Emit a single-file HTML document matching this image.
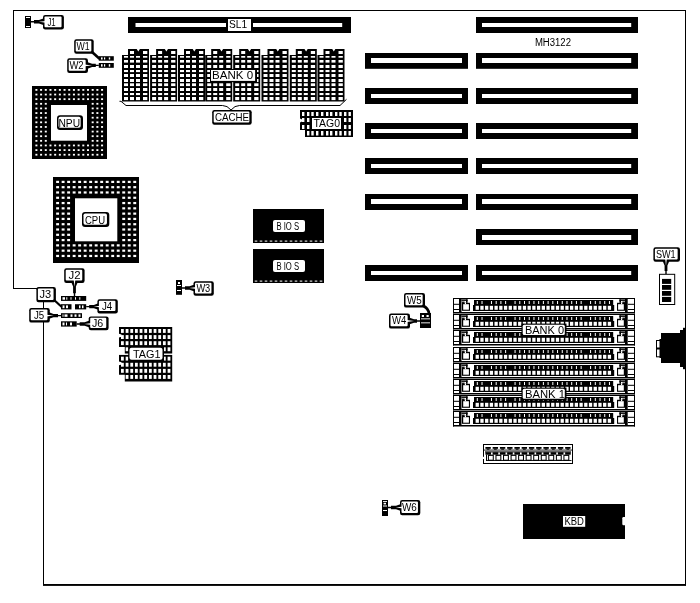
<!DOCTYPE html>
<html><head><meta charset="utf-8"><title>MH3122</title>
<style>
html,body{margin:0;padding:0;background:#fff;}
svg{display:block;}
text{font-family:"Liberation Sans",sans-serif;fill:#000;}
</style></head><body>
<svg width="700" height="603" viewBox="0 0 700 603" style="will-change:transform">
<rect x="0" y="0" width="700" height="603" fill="#fff"/>
<rect x="13.00" y="10.00" width="673.00" height="1.00" fill="#000"/>
<rect x="13.00" y="10.00" width="1.00" height="279.00" fill="#000"/>
<rect x="13.00" y="288.00" width="25.00" height="1.00" fill="#000"/>
<rect x="43.00" y="300.00" width="1.00" height="285.00" fill="#000"/>
<rect x="43.00" y="584.00" width="643.00" height="1.90" fill="#000"/>
<rect x="685.00" y="10.00" width="1.00" height="575.50" fill="#000"/>
<rect x="476.00" y="17.00" width="162.00" height="16.00" fill="#000"/>
<rect x="482.00" y="23.00" width="149.20" height="4.00" fill="#fff"/>
<rect x="476.00" y="53.00" width="162.00" height="15.80" fill="#000"/>
<rect x="482.00" y="58.00" width="149.20" height="5.00" fill="#fff"/>
<rect x="365.00" y="53.00" width="103.00" height="15.80" fill="#000"/>
<rect x="371.00" y="58.00" width="91.00" height="5.00" fill="#fff"/>
<rect x="476.00" y="88.00" width="162.00" height="16.00" fill="#000"/>
<rect x="482.00" y="94.00" width="149.20" height="4.00" fill="#fff"/>
<rect x="365.00" y="88.00" width="103.00" height="16.00" fill="#000"/>
<rect x="371.00" y="94.00" width="91.00" height="4.00" fill="#fff"/>
<rect x="476.00" y="123.00" width="162.00" height="16.00" fill="#000"/>
<rect x="482.00" y="129.00" width="149.20" height="4.00" fill="#fff"/>
<rect x="365.00" y="123.00" width="103.00" height="16.00" fill="#000"/>
<rect x="371.00" y="129.00" width="91.00" height="4.00" fill="#fff"/>
<rect x="476.00" y="158.00" width="162.00" height="16.00" fill="#000"/>
<rect x="482.00" y="164.00" width="149.20" height="4.00" fill="#fff"/>
<rect x="365.00" y="158.00" width="103.00" height="16.00" fill="#000"/>
<rect x="371.00" y="164.00" width="91.00" height="4.00" fill="#fff"/>
<rect x="476.00" y="194.00" width="162.00" height="16.00" fill="#000"/>
<rect x="482.00" y="199.00" width="149.20" height="5.00" fill="#fff"/>
<rect x="365.00" y="194.00" width="103.00" height="16.00" fill="#000"/>
<rect x="371.00" y="199.00" width="91.00" height="5.00" fill="#fff"/>
<rect x="476.00" y="229.00" width="162.00" height="16.00" fill="#000"/>
<rect x="482.00" y="235.00" width="149.20" height="5.00" fill="#fff"/>
<rect x="476.00" y="265.00" width="162.00" height="16.00" fill="#000"/>
<rect x="482.00" y="271.00" width="149.20" height="4.00" fill="#fff"/>
<rect x="365.00" y="265.00" width="103.00" height="16.00" fill="#000"/>
<rect x="371.00" y="271.00" width="91.00" height="4.00" fill="#fff"/>
<rect x="128.00" y="17.00" width="223.00" height="16.00" fill="#000"/>
<rect x="135.50" y="23.00" width="90.50" height="4.00" fill="#fff"/>
<rect x="253.00" y="23.00" width="89.20" height="4.00" fill="#fff"/>
<rect x="228.00" y="19.00" width="23.00" height="12.00" fill="#fff"/>
<text id="sl1" x="229.00" y="28.00" font-size="11" textLength="18.11" lengthAdjust="spacingAndGlyphs">SL1</text>
<text id="mh" x="534.90" y="46.20" font-size="10" textLength="36.12" lengthAdjust="spacingAndGlyphs">MH3122</text>
<polygon points="122.00,55.00 128.00,55.00 128.00,49.00 136.70,49.00 138.30,51.60 139.90,49.00 149.00,49.00 149.00,101.50 122.00,101.50" fill="#000"/>
<rect x="124.00" y="56.00" width="4.00" height="1.70" fill="#fff"/>
<rect x="130.00" y="56.00" width="4.00" height="1.70" fill="#fff"/>
<rect x="136.00" y="56.00" width="4.00" height="1.70" fill="#fff"/>
<rect x="143.00" y="56.00" width="4.30" height="1.70" fill="#fff"/>
<rect x="124.00" y="60.00" width="4.00" height="2.60" fill="#fff"/>
<rect x="130.00" y="60.00" width="4.00" height="2.60" fill="#fff"/>
<rect x="136.00" y="60.00" width="4.00" height="2.60" fill="#fff"/>
<rect x="143.00" y="60.00" width="4.30" height="2.60" fill="#fff"/>
<rect x="124.00" y="65.00" width="4.00" height="3.00" fill="#fff"/>
<rect x="130.00" y="65.00" width="4.00" height="3.00" fill="#fff"/>
<rect x="136.00" y="65.00" width="4.00" height="3.00" fill="#fff"/>
<rect x="143.00" y="65.00" width="4.30" height="3.00" fill="#fff"/>
<rect x="124.00" y="70.00" width="4.00" height="2.10" fill="#fff"/>
<rect x="130.00" y="70.00" width="4.00" height="2.10" fill="#fff"/>
<rect x="136.00" y="70.00" width="4.00" height="2.10" fill="#fff"/>
<rect x="143.00" y="70.00" width="4.30" height="2.10" fill="#fff"/>
<rect x="124.00" y="74.00" width="4.00" height="3.00" fill="#fff"/>
<rect x="130.00" y="74.00" width="4.00" height="3.00" fill="#fff"/>
<rect x="136.00" y="74.00" width="4.00" height="3.00" fill="#fff"/>
<rect x="143.00" y="74.00" width="4.30" height="3.00" fill="#fff"/>
<rect x="124.00" y="79.00" width="4.00" height="3.00" fill="#fff"/>
<rect x="130.00" y="79.00" width="4.00" height="3.00" fill="#fff"/>
<rect x="136.00" y="79.00" width="4.00" height="3.00" fill="#fff"/>
<rect x="143.00" y="79.00" width="4.30" height="3.00" fill="#fff"/>
<rect x="124.00" y="83.30" width="4.00" height="2.80" fill="#fff"/>
<rect x="130.00" y="83.30" width="4.00" height="2.80" fill="#fff"/>
<rect x="136.00" y="83.30" width="4.00" height="2.80" fill="#fff"/>
<rect x="143.00" y="83.30" width="4.30" height="2.80" fill="#fff"/>
<rect x="124.00" y="88.00" width="4.00" height="3.00" fill="#fff"/>
<rect x="130.00" y="88.00" width="4.00" height="3.00" fill="#fff"/>
<rect x="136.00" y="88.00" width="4.00" height="3.00" fill="#fff"/>
<rect x="143.00" y="88.00" width="4.30" height="3.00" fill="#fff"/>
<rect x="124.00" y="93.00" width="4.00" height="2.10" fill="#fff"/>
<rect x="130.00" y="93.00" width="4.00" height="2.10" fill="#fff"/>
<rect x="136.00" y="93.00" width="4.00" height="2.10" fill="#fff"/>
<rect x="143.00" y="93.00" width="4.30" height="2.10" fill="#fff"/>
<rect x="124.00" y="97.00" width="4.00" height="3.10" fill="#fff"/>
<rect x="130.00" y="97.00" width="4.00" height="3.10" fill="#fff"/>
<rect x="136.00" y="97.00" width="4.00" height="3.10" fill="#fff"/>
<rect x="143.00" y="97.00" width="4.30" height="3.10" fill="#fff"/>
<rect x="130.00" y="51.00" width="4.00" height="3.00" fill="#fff"/>
<rect x="143.00" y="51.00" width="4.30" height="3.00" fill="#fff"/>
<polygon points="150.10,55.00 156.10,55.00 156.10,49.00 164.80,49.00 166.40,51.60 168.00,49.00 177.10,49.00 177.10,101.50 150.10,101.50" fill="#000"/>
<rect x="152.10" y="56.00" width="4.00" height="1.70" fill="#fff"/>
<rect x="158.10" y="56.00" width="4.00" height="1.70" fill="#fff"/>
<rect x="164.10" y="56.00" width="4.00" height="1.70" fill="#fff"/>
<rect x="171.10" y="56.00" width="4.30" height="1.70" fill="#fff"/>
<rect x="152.10" y="60.00" width="4.00" height="2.60" fill="#fff"/>
<rect x="158.10" y="60.00" width="4.00" height="2.60" fill="#fff"/>
<rect x="164.10" y="60.00" width="4.00" height="2.60" fill="#fff"/>
<rect x="171.10" y="60.00" width="4.30" height="2.60" fill="#fff"/>
<rect x="152.10" y="65.00" width="4.00" height="3.00" fill="#fff"/>
<rect x="158.10" y="65.00" width="4.00" height="3.00" fill="#fff"/>
<rect x="164.10" y="65.00" width="4.00" height="3.00" fill="#fff"/>
<rect x="171.10" y="65.00" width="4.30" height="3.00" fill="#fff"/>
<rect x="152.10" y="70.00" width="4.00" height="2.10" fill="#fff"/>
<rect x="158.10" y="70.00" width="4.00" height="2.10" fill="#fff"/>
<rect x="164.10" y="70.00" width="4.00" height="2.10" fill="#fff"/>
<rect x="171.10" y="70.00" width="4.30" height="2.10" fill="#fff"/>
<rect x="152.10" y="74.00" width="4.00" height="3.00" fill="#fff"/>
<rect x="158.10" y="74.00" width="4.00" height="3.00" fill="#fff"/>
<rect x="164.10" y="74.00" width="4.00" height="3.00" fill="#fff"/>
<rect x="171.10" y="74.00" width="4.30" height="3.00" fill="#fff"/>
<rect x="152.10" y="79.00" width="4.00" height="3.00" fill="#fff"/>
<rect x="158.10" y="79.00" width="4.00" height="3.00" fill="#fff"/>
<rect x="164.10" y="79.00" width="4.00" height="3.00" fill="#fff"/>
<rect x="171.10" y="79.00" width="4.30" height="3.00" fill="#fff"/>
<rect x="152.10" y="83.30" width="4.00" height="2.80" fill="#fff"/>
<rect x="158.10" y="83.30" width="4.00" height="2.80" fill="#fff"/>
<rect x="164.10" y="83.30" width="4.00" height="2.80" fill="#fff"/>
<rect x="171.10" y="83.30" width="4.30" height="2.80" fill="#fff"/>
<rect x="152.10" y="88.00" width="4.00" height="3.00" fill="#fff"/>
<rect x="158.10" y="88.00" width="4.00" height="3.00" fill="#fff"/>
<rect x="164.10" y="88.00" width="4.00" height="3.00" fill="#fff"/>
<rect x="171.10" y="88.00" width="4.30" height="3.00" fill="#fff"/>
<rect x="152.10" y="93.00" width="4.00" height="2.10" fill="#fff"/>
<rect x="158.10" y="93.00" width="4.00" height="2.10" fill="#fff"/>
<rect x="164.10" y="93.00" width="4.00" height="2.10" fill="#fff"/>
<rect x="171.10" y="93.00" width="4.30" height="2.10" fill="#fff"/>
<rect x="152.10" y="97.00" width="4.00" height="3.10" fill="#fff"/>
<rect x="158.10" y="97.00" width="4.00" height="3.10" fill="#fff"/>
<rect x="164.10" y="97.00" width="4.00" height="3.10" fill="#fff"/>
<rect x="171.10" y="97.00" width="4.30" height="3.10" fill="#fff"/>
<rect x="158.10" y="51.00" width="4.00" height="3.00" fill="#fff"/>
<rect x="171.10" y="51.00" width="4.30" height="3.00" fill="#fff"/>
<polygon points="178.00,55.00 184.00,55.00 184.00,49.00 192.70,49.00 194.30,51.60 195.90,49.00 205.00,49.00 205.00,101.50 178.00,101.50" fill="#000"/>
<rect x="180.00" y="56.00" width="4.00" height="1.70" fill="#fff"/>
<rect x="186.00" y="56.00" width="4.00" height="1.70" fill="#fff"/>
<rect x="192.00" y="56.00" width="4.00" height="1.70" fill="#fff"/>
<rect x="199.00" y="56.00" width="4.30" height="1.70" fill="#fff"/>
<rect x="180.00" y="60.00" width="4.00" height="2.60" fill="#fff"/>
<rect x="186.00" y="60.00" width="4.00" height="2.60" fill="#fff"/>
<rect x="192.00" y="60.00" width="4.00" height="2.60" fill="#fff"/>
<rect x="199.00" y="60.00" width="4.30" height="2.60" fill="#fff"/>
<rect x="180.00" y="65.00" width="4.00" height="3.00" fill="#fff"/>
<rect x="186.00" y="65.00" width="4.00" height="3.00" fill="#fff"/>
<rect x="192.00" y="65.00" width="4.00" height="3.00" fill="#fff"/>
<rect x="199.00" y="65.00" width="4.30" height="3.00" fill="#fff"/>
<rect x="180.00" y="70.00" width="4.00" height="2.10" fill="#fff"/>
<rect x="186.00" y="70.00" width="4.00" height="2.10" fill="#fff"/>
<rect x="192.00" y="70.00" width="4.00" height="2.10" fill="#fff"/>
<rect x="199.00" y="70.00" width="4.30" height="2.10" fill="#fff"/>
<rect x="180.00" y="74.00" width="4.00" height="3.00" fill="#fff"/>
<rect x="186.00" y="74.00" width="4.00" height="3.00" fill="#fff"/>
<rect x="192.00" y="74.00" width="4.00" height="3.00" fill="#fff"/>
<rect x="199.00" y="74.00" width="4.30" height="3.00" fill="#fff"/>
<rect x="180.00" y="79.00" width="4.00" height="3.00" fill="#fff"/>
<rect x="186.00" y="79.00" width="4.00" height="3.00" fill="#fff"/>
<rect x="192.00" y="79.00" width="4.00" height="3.00" fill="#fff"/>
<rect x="199.00" y="79.00" width="4.30" height="3.00" fill="#fff"/>
<rect x="180.00" y="83.30" width="4.00" height="2.80" fill="#fff"/>
<rect x="186.00" y="83.30" width="4.00" height="2.80" fill="#fff"/>
<rect x="192.00" y="83.30" width="4.00" height="2.80" fill="#fff"/>
<rect x="199.00" y="83.30" width="4.30" height="2.80" fill="#fff"/>
<rect x="180.00" y="88.00" width="4.00" height="3.00" fill="#fff"/>
<rect x="186.00" y="88.00" width="4.00" height="3.00" fill="#fff"/>
<rect x="192.00" y="88.00" width="4.00" height="3.00" fill="#fff"/>
<rect x="199.00" y="88.00" width="4.30" height="3.00" fill="#fff"/>
<rect x="180.00" y="93.00" width="4.00" height="2.10" fill="#fff"/>
<rect x="186.00" y="93.00" width="4.00" height="2.10" fill="#fff"/>
<rect x="192.00" y="93.00" width="4.00" height="2.10" fill="#fff"/>
<rect x="199.00" y="93.00" width="4.30" height="2.10" fill="#fff"/>
<rect x="180.00" y="97.00" width="4.00" height="3.10" fill="#fff"/>
<rect x="186.00" y="97.00" width="4.00" height="3.10" fill="#fff"/>
<rect x="192.00" y="97.00" width="4.00" height="3.10" fill="#fff"/>
<rect x="199.00" y="97.00" width="4.30" height="3.10" fill="#fff"/>
<rect x="186.00" y="51.00" width="4.00" height="3.00" fill="#fff"/>
<rect x="199.00" y="51.00" width="4.30" height="3.00" fill="#fff"/>
<polygon points="205.20,55.00 211.20,55.00 211.20,49.00 219.90,49.00 221.50,51.60 223.10,49.00 232.20,49.00 232.20,101.50 205.20,101.50" fill="#000"/>
<rect x="207.20" y="56.00" width="4.00" height="1.70" fill="#fff"/>
<rect x="213.20" y="56.00" width="4.00" height="1.70" fill="#fff"/>
<rect x="219.20" y="56.00" width="4.00" height="1.70" fill="#fff"/>
<rect x="226.20" y="56.00" width="4.30" height="1.70" fill="#fff"/>
<rect x="207.20" y="60.00" width="4.00" height="2.60" fill="#fff"/>
<rect x="213.20" y="60.00" width="4.00" height="2.60" fill="#fff"/>
<rect x="219.20" y="60.00" width="4.00" height="2.60" fill="#fff"/>
<rect x="226.20" y="60.00" width="4.30" height="2.60" fill="#fff"/>
<rect x="207.20" y="65.00" width="4.00" height="3.00" fill="#fff"/>
<rect x="213.20" y="65.00" width="4.00" height="3.00" fill="#fff"/>
<rect x="219.20" y="65.00" width="4.00" height="3.00" fill="#fff"/>
<rect x="226.20" y="65.00" width="4.30" height="3.00" fill="#fff"/>
<rect x="207.20" y="70.00" width="4.00" height="2.10" fill="#fff"/>
<rect x="213.20" y="70.00" width="4.00" height="2.10" fill="#fff"/>
<rect x="219.20" y="70.00" width="4.00" height="2.10" fill="#fff"/>
<rect x="226.20" y="70.00" width="4.30" height="2.10" fill="#fff"/>
<rect x="207.20" y="74.00" width="4.00" height="3.00" fill="#fff"/>
<rect x="213.20" y="74.00" width="4.00" height="3.00" fill="#fff"/>
<rect x="219.20" y="74.00" width="4.00" height="3.00" fill="#fff"/>
<rect x="226.20" y="74.00" width="4.30" height="3.00" fill="#fff"/>
<rect x="207.20" y="79.00" width="4.00" height="3.00" fill="#fff"/>
<rect x="213.20" y="79.00" width="4.00" height="3.00" fill="#fff"/>
<rect x="219.20" y="79.00" width="4.00" height="3.00" fill="#fff"/>
<rect x="226.20" y="79.00" width="4.30" height="3.00" fill="#fff"/>
<rect x="207.20" y="83.30" width="4.00" height="2.80" fill="#fff"/>
<rect x="213.20" y="83.30" width="4.00" height="2.80" fill="#fff"/>
<rect x="219.20" y="83.30" width="4.00" height="2.80" fill="#fff"/>
<rect x="226.20" y="83.30" width="4.30" height="2.80" fill="#fff"/>
<rect x="207.20" y="88.00" width="4.00" height="3.00" fill="#fff"/>
<rect x="213.20" y="88.00" width="4.00" height="3.00" fill="#fff"/>
<rect x="219.20" y="88.00" width="4.00" height="3.00" fill="#fff"/>
<rect x="226.20" y="88.00" width="4.30" height="3.00" fill="#fff"/>
<rect x="207.20" y="93.00" width="4.00" height="2.10" fill="#fff"/>
<rect x="213.20" y="93.00" width="4.00" height="2.10" fill="#fff"/>
<rect x="219.20" y="93.00" width="4.00" height="2.10" fill="#fff"/>
<rect x="226.20" y="93.00" width="4.30" height="2.10" fill="#fff"/>
<rect x="207.20" y="97.00" width="4.00" height="3.10" fill="#fff"/>
<rect x="213.20" y="97.00" width="4.00" height="3.10" fill="#fff"/>
<rect x="219.20" y="97.00" width="4.00" height="3.10" fill="#fff"/>
<rect x="226.20" y="97.00" width="4.30" height="3.10" fill="#fff"/>
<rect x="213.20" y="51.00" width="4.00" height="3.00" fill="#fff"/>
<rect x="226.20" y="51.00" width="4.30" height="3.00" fill="#fff"/>
<polygon points="233.20,55.00 239.20,55.00 239.20,49.00 247.90,49.00 249.50,51.60 251.10,49.00 260.20,49.00 260.20,101.50 233.20,101.50" fill="#000"/>
<rect x="235.20" y="56.00" width="4.00" height="1.70" fill="#fff"/>
<rect x="241.20" y="56.00" width="4.00" height="1.70" fill="#fff"/>
<rect x="247.20" y="56.00" width="4.00" height="1.70" fill="#fff"/>
<rect x="254.20" y="56.00" width="4.30" height="1.70" fill="#fff"/>
<rect x="235.20" y="60.00" width="4.00" height="2.60" fill="#fff"/>
<rect x="241.20" y="60.00" width="4.00" height="2.60" fill="#fff"/>
<rect x="247.20" y="60.00" width="4.00" height="2.60" fill="#fff"/>
<rect x="254.20" y="60.00" width="4.30" height="2.60" fill="#fff"/>
<rect x="235.20" y="65.00" width="4.00" height="3.00" fill="#fff"/>
<rect x="241.20" y="65.00" width="4.00" height="3.00" fill="#fff"/>
<rect x="247.20" y="65.00" width="4.00" height="3.00" fill="#fff"/>
<rect x="254.20" y="65.00" width="4.30" height="3.00" fill="#fff"/>
<rect x="235.20" y="70.00" width="4.00" height="2.10" fill="#fff"/>
<rect x="241.20" y="70.00" width="4.00" height="2.10" fill="#fff"/>
<rect x="247.20" y="70.00" width="4.00" height="2.10" fill="#fff"/>
<rect x="254.20" y="70.00" width="4.30" height="2.10" fill="#fff"/>
<rect x="235.20" y="74.00" width="4.00" height="3.00" fill="#fff"/>
<rect x="241.20" y="74.00" width="4.00" height="3.00" fill="#fff"/>
<rect x="247.20" y="74.00" width="4.00" height="3.00" fill="#fff"/>
<rect x="254.20" y="74.00" width="4.30" height="3.00" fill="#fff"/>
<rect x="235.20" y="79.00" width="4.00" height="3.00" fill="#fff"/>
<rect x="241.20" y="79.00" width="4.00" height="3.00" fill="#fff"/>
<rect x="247.20" y="79.00" width="4.00" height="3.00" fill="#fff"/>
<rect x="254.20" y="79.00" width="4.30" height="3.00" fill="#fff"/>
<rect x="235.20" y="83.30" width="4.00" height="2.80" fill="#fff"/>
<rect x="241.20" y="83.30" width="4.00" height="2.80" fill="#fff"/>
<rect x="247.20" y="83.30" width="4.00" height="2.80" fill="#fff"/>
<rect x="254.20" y="83.30" width="4.30" height="2.80" fill="#fff"/>
<rect x="235.20" y="88.00" width="4.00" height="3.00" fill="#fff"/>
<rect x="241.20" y="88.00" width="4.00" height="3.00" fill="#fff"/>
<rect x="247.20" y="88.00" width="4.00" height="3.00" fill="#fff"/>
<rect x="254.20" y="88.00" width="4.30" height="3.00" fill="#fff"/>
<rect x="235.20" y="93.00" width="4.00" height="2.10" fill="#fff"/>
<rect x="241.20" y="93.00" width="4.00" height="2.10" fill="#fff"/>
<rect x="247.20" y="93.00" width="4.00" height="2.10" fill="#fff"/>
<rect x="254.20" y="93.00" width="4.30" height="2.10" fill="#fff"/>
<rect x="235.20" y="97.00" width="4.00" height="3.10" fill="#fff"/>
<rect x="241.20" y="97.00" width="4.00" height="3.10" fill="#fff"/>
<rect x="247.20" y="97.00" width="4.00" height="3.10" fill="#fff"/>
<rect x="254.20" y="97.00" width="4.30" height="3.10" fill="#fff"/>
<rect x="241.20" y="51.00" width="4.00" height="3.00" fill="#fff"/>
<rect x="254.20" y="51.00" width="4.30" height="3.00" fill="#fff"/>
<polygon points="261.50,55.00 267.50,55.00 267.50,49.00 276.20,49.00 277.80,51.60 279.40,49.00 288.50,49.00 288.50,101.50 261.50,101.50" fill="#000"/>
<rect x="263.50" y="56.00" width="4.00" height="1.70" fill="#fff"/>
<rect x="269.50" y="56.00" width="4.00" height="1.70" fill="#fff"/>
<rect x="275.50" y="56.00" width="4.00" height="1.70" fill="#fff"/>
<rect x="282.50" y="56.00" width="4.30" height="1.70" fill="#fff"/>
<rect x="263.50" y="60.00" width="4.00" height="2.60" fill="#fff"/>
<rect x="269.50" y="60.00" width="4.00" height="2.60" fill="#fff"/>
<rect x="275.50" y="60.00" width="4.00" height="2.60" fill="#fff"/>
<rect x="282.50" y="60.00" width="4.30" height="2.60" fill="#fff"/>
<rect x="263.50" y="65.00" width="4.00" height="3.00" fill="#fff"/>
<rect x="269.50" y="65.00" width="4.00" height="3.00" fill="#fff"/>
<rect x="275.50" y="65.00" width="4.00" height="3.00" fill="#fff"/>
<rect x="282.50" y="65.00" width="4.30" height="3.00" fill="#fff"/>
<rect x="263.50" y="70.00" width="4.00" height="2.10" fill="#fff"/>
<rect x="269.50" y="70.00" width="4.00" height="2.10" fill="#fff"/>
<rect x="275.50" y="70.00" width="4.00" height="2.10" fill="#fff"/>
<rect x="282.50" y="70.00" width="4.30" height="2.10" fill="#fff"/>
<rect x="263.50" y="74.00" width="4.00" height="3.00" fill="#fff"/>
<rect x="269.50" y="74.00" width="4.00" height="3.00" fill="#fff"/>
<rect x="275.50" y="74.00" width="4.00" height="3.00" fill="#fff"/>
<rect x="282.50" y="74.00" width="4.30" height="3.00" fill="#fff"/>
<rect x="263.50" y="79.00" width="4.00" height="3.00" fill="#fff"/>
<rect x="269.50" y="79.00" width="4.00" height="3.00" fill="#fff"/>
<rect x="275.50" y="79.00" width="4.00" height="3.00" fill="#fff"/>
<rect x="282.50" y="79.00" width="4.30" height="3.00" fill="#fff"/>
<rect x="263.50" y="83.30" width="4.00" height="2.80" fill="#fff"/>
<rect x="269.50" y="83.30" width="4.00" height="2.80" fill="#fff"/>
<rect x="275.50" y="83.30" width="4.00" height="2.80" fill="#fff"/>
<rect x="282.50" y="83.30" width="4.30" height="2.80" fill="#fff"/>
<rect x="263.50" y="88.00" width="4.00" height="3.00" fill="#fff"/>
<rect x="269.50" y="88.00" width="4.00" height="3.00" fill="#fff"/>
<rect x="275.50" y="88.00" width="4.00" height="3.00" fill="#fff"/>
<rect x="282.50" y="88.00" width="4.30" height="3.00" fill="#fff"/>
<rect x="263.50" y="93.00" width="4.00" height="2.10" fill="#fff"/>
<rect x="269.50" y="93.00" width="4.00" height="2.10" fill="#fff"/>
<rect x="275.50" y="93.00" width="4.00" height="2.10" fill="#fff"/>
<rect x="282.50" y="93.00" width="4.30" height="2.10" fill="#fff"/>
<rect x="263.50" y="97.00" width="4.00" height="3.10" fill="#fff"/>
<rect x="269.50" y="97.00" width="4.00" height="3.10" fill="#fff"/>
<rect x="275.50" y="97.00" width="4.00" height="3.10" fill="#fff"/>
<rect x="282.50" y="97.00" width="4.30" height="3.10" fill="#fff"/>
<rect x="269.50" y="51.00" width="4.00" height="3.00" fill="#fff"/>
<rect x="282.50" y="51.00" width="4.30" height="3.00" fill="#fff"/>
<polygon points="289.80,55.00 295.80,55.00 295.80,49.00 304.50,49.00 306.10,51.60 307.70,49.00 316.80,49.00 316.80,101.50 289.80,101.50" fill="#000"/>
<rect x="291.80" y="56.00" width="4.00" height="1.70" fill="#fff"/>
<rect x="297.80" y="56.00" width="4.00" height="1.70" fill="#fff"/>
<rect x="303.80" y="56.00" width="4.00" height="1.70" fill="#fff"/>
<rect x="310.80" y="56.00" width="4.30" height="1.70" fill="#fff"/>
<rect x="291.80" y="60.00" width="4.00" height="2.60" fill="#fff"/>
<rect x="297.80" y="60.00" width="4.00" height="2.60" fill="#fff"/>
<rect x="303.80" y="60.00" width="4.00" height="2.60" fill="#fff"/>
<rect x="310.80" y="60.00" width="4.30" height="2.60" fill="#fff"/>
<rect x="291.80" y="65.00" width="4.00" height="3.00" fill="#fff"/>
<rect x="297.80" y="65.00" width="4.00" height="3.00" fill="#fff"/>
<rect x="303.80" y="65.00" width="4.00" height="3.00" fill="#fff"/>
<rect x="310.80" y="65.00" width="4.30" height="3.00" fill="#fff"/>
<rect x="291.80" y="70.00" width="4.00" height="2.10" fill="#fff"/>
<rect x="297.80" y="70.00" width="4.00" height="2.10" fill="#fff"/>
<rect x="303.80" y="70.00" width="4.00" height="2.10" fill="#fff"/>
<rect x="310.80" y="70.00" width="4.30" height="2.10" fill="#fff"/>
<rect x="291.80" y="74.00" width="4.00" height="3.00" fill="#fff"/>
<rect x="297.80" y="74.00" width="4.00" height="3.00" fill="#fff"/>
<rect x="303.80" y="74.00" width="4.00" height="3.00" fill="#fff"/>
<rect x="310.80" y="74.00" width="4.30" height="3.00" fill="#fff"/>
<rect x="291.80" y="79.00" width="4.00" height="3.00" fill="#fff"/>
<rect x="297.80" y="79.00" width="4.00" height="3.00" fill="#fff"/>
<rect x="303.80" y="79.00" width="4.00" height="3.00" fill="#fff"/>
<rect x="310.80" y="79.00" width="4.30" height="3.00" fill="#fff"/>
<rect x="291.80" y="83.30" width="4.00" height="2.80" fill="#fff"/>
<rect x="297.80" y="83.30" width="4.00" height="2.80" fill="#fff"/>
<rect x="303.80" y="83.30" width="4.00" height="2.80" fill="#fff"/>
<rect x="310.80" y="83.30" width="4.30" height="2.80" fill="#fff"/>
<rect x="291.80" y="88.00" width="4.00" height="3.00" fill="#fff"/>
<rect x="297.80" y="88.00" width="4.00" height="3.00" fill="#fff"/>
<rect x="303.80" y="88.00" width="4.00" height="3.00" fill="#fff"/>
<rect x="310.80" y="88.00" width="4.30" height="3.00" fill="#fff"/>
<rect x="291.80" y="93.00" width="4.00" height="2.10" fill="#fff"/>
<rect x="297.80" y="93.00" width="4.00" height="2.10" fill="#fff"/>
<rect x="303.80" y="93.00" width="4.00" height="2.10" fill="#fff"/>
<rect x="310.80" y="93.00" width="4.30" height="2.10" fill="#fff"/>
<rect x="291.80" y="97.00" width="4.00" height="3.10" fill="#fff"/>
<rect x="297.80" y="97.00" width="4.00" height="3.10" fill="#fff"/>
<rect x="303.80" y="97.00" width="4.00" height="3.10" fill="#fff"/>
<rect x="310.80" y="97.00" width="4.30" height="3.10" fill="#fff"/>
<rect x="297.80" y="51.00" width="4.00" height="3.00" fill="#fff"/>
<rect x="310.80" y="51.00" width="4.30" height="3.00" fill="#fff"/>
<polygon points="317.50,55.00 323.50,55.00 323.50,49.00 332.20,49.00 333.80,51.60 335.40,49.00 344.50,49.00 344.50,101.50 317.50,101.50" fill="#000"/>
<rect x="319.50" y="56.00" width="4.00" height="1.70" fill="#fff"/>
<rect x="325.50" y="56.00" width="4.00" height="1.70" fill="#fff"/>
<rect x="331.50" y="56.00" width="4.00" height="1.70" fill="#fff"/>
<rect x="338.50" y="56.00" width="4.30" height="1.70" fill="#fff"/>
<rect x="319.50" y="60.00" width="4.00" height="2.60" fill="#fff"/>
<rect x="325.50" y="60.00" width="4.00" height="2.60" fill="#fff"/>
<rect x="331.50" y="60.00" width="4.00" height="2.60" fill="#fff"/>
<rect x="338.50" y="60.00" width="4.30" height="2.60" fill="#fff"/>
<rect x="319.50" y="65.00" width="4.00" height="3.00" fill="#fff"/>
<rect x="325.50" y="65.00" width="4.00" height="3.00" fill="#fff"/>
<rect x="331.50" y="65.00" width="4.00" height="3.00" fill="#fff"/>
<rect x="338.50" y="65.00" width="4.30" height="3.00" fill="#fff"/>
<rect x="319.50" y="70.00" width="4.00" height="2.10" fill="#fff"/>
<rect x="325.50" y="70.00" width="4.00" height="2.10" fill="#fff"/>
<rect x="331.50" y="70.00" width="4.00" height="2.10" fill="#fff"/>
<rect x="338.50" y="70.00" width="4.30" height="2.10" fill="#fff"/>
<rect x="319.50" y="74.00" width="4.00" height="3.00" fill="#fff"/>
<rect x="325.50" y="74.00" width="4.00" height="3.00" fill="#fff"/>
<rect x="331.50" y="74.00" width="4.00" height="3.00" fill="#fff"/>
<rect x="338.50" y="74.00" width="4.30" height="3.00" fill="#fff"/>
<rect x="319.50" y="79.00" width="4.00" height="3.00" fill="#fff"/>
<rect x="325.50" y="79.00" width="4.00" height="3.00" fill="#fff"/>
<rect x="331.50" y="79.00" width="4.00" height="3.00" fill="#fff"/>
<rect x="338.50" y="79.00" width="4.30" height="3.00" fill="#fff"/>
<rect x="319.50" y="83.30" width="4.00" height="2.80" fill="#fff"/>
<rect x="325.50" y="83.30" width="4.00" height="2.80" fill="#fff"/>
<rect x="331.50" y="83.30" width="4.00" height="2.80" fill="#fff"/>
<rect x="338.50" y="83.30" width="4.30" height="2.80" fill="#fff"/>
<rect x="319.50" y="88.00" width="4.00" height="3.00" fill="#fff"/>
<rect x="325.50" y="88.00" width="4.00" height="3.00" fill="#fff"/>
<rect x="331.50" y="88.00" width="4.00" height="3.00" fill="#fff"/>
<rect x="338.50" y="88.00" width="4.30" height="3.00" fill="#fff"/>
<rect x="319.50" y="93.00" width="4.00" height="2.10" fill="#fff"/>
<rect x="325.50" y="93.00" width="4.00" height="2.10" fill="#fff"/>
<rect x="331.50" y="93.00" width="4.00" height="2.10" fill="#fff"/>
<rect x="338.50" y="93.00" width="4.30" height="2.10" fill="#fff"/>
<rect x="319.50" y="97.00" width="4.00" height="3.10" fill="#fff"/>
<rect x="325.50" y="97.00" width="4.00" height="3.10" fill="#fff"/>
<rect x="331.50" y="97.00" width="4.00" height="3.10" fill="#fff"/>
<rect x="338.50" y="97.00" width="4.30" height="3.10" fill="#fff"/>
<rect x="325.50" y="51.00" width="4.00" height="3.00" fill="#fff"/>
<rect x="338.50" y="51.00" width="4.30" height="3.00" fill="#fff"/>
<polyline points="119.50,101.30 121.00,101.30 126.00,105.50 222.50,105.50 227.00,106.60 231.00,110.00 235.00,106.60 239.50,105.50 340.00,105.50 346.50,99.30" fill="none" stroke="#000" stroke-width="1" stroke-linecap="butt" stroke-linejoin="miter"/>
<rect x="210.00" y="69.00" width="47.00" height="13.20" fill="#000"/>
<rect x="211.00" y="70.00" width="44.10" height="10.90" fill="#fff"/>
<text id="bank0c" x="212.00" y="79.20" font-size="11" textLength="41.12" lengthAdjust="spacingAndGlyphs">BANK 0</text>
<rect x="212.20" y="110.00" width="39.50" height="14.70" rx="2.2" ry="2.2" fill="#000"/>
<rect x="213.70" y="111.45" width="35.65" height="10.95" rx="1.0000000000000002" ry="1.0000000000000002" fill="#fff"/>
<text id="cache" x="214.90" y="121.30" font-size="11" textLength="34.12" lengthAdjust="spacingAndGlyphs">CACHE</text>
<polygon points="300.00,110.00 353.00,110.00 353.00,137.00 305.00,137.00 305.00,130.00 300.00,130.00 300.00,122.40 302.00,121.40 302.00,119.40 300.00,118.40" fill="#000"/>
<rect x="302.00" y="112.00" width="2.40" height="4.00" fill="#fff"/>
<rect x="307.00" y="112.00" width="2.40" height="4.00" fill="#fff"/>
<rect x="307.00" y="131.00" width="2.40" height="4.50" fill="#fff"/>
<rect x="311.30" y="112.00" width="2.40" height="4.00" fill="#fff"/>
<rect x="311.30" y="131.00" width="2.40" height="4.50" fill="#fff"/>
<rect x="316.00" y="112.00" width="2.40" height="4.00" fill="#fff"/>
<rect x="316.00" y="131.00" width="2.40" height="4.50" fill="#fff"/>
<rect x="321.00" y="112.00" width="2.40" height="4.00" fill="#fff"/>
<rect x="321.00" y="131.00" width="2.40" height="4.50" fill="#fff"/>
<rect x="326.00" y="112.00" width="2.40" height="4.00" fill="#fff"/>
<rect x="326.00" y="131.00" width="2.40" height="4.50" fill="#fff"/>
<rect x="330.00" y="112.00" width="2.40" height="4.00" fill="#fff"/>
<rect x="330.00" y="131.00" width="2.40" height="4.50" fill="#fff"/>
<rect x="335.00" y="112.00" width="2.40" height="4.00" fill="#fff"/>
<rect x="335.00" y="131.00" width="2.40" height="4.50" fill="#fff"/>
<rect x="339.30" y="112.00" width="2.40" height="4.00" fill="#fff"/>
<rect x="339.30" y="131.00" width="2.40" height="4.50" fill="#fff"/>
<rect x="344.00" y="112.00" width="2.40" height="4.00" fill="#fff"/>
<rect x="344.00" y="131.00" width="2.40" height="4.50" fill="#fff"/>
<rect x="348.50" y="112.00" width="2.40" height="4.00" fill="#fff"/>
<rect x="348.50" y="131.00" width="2.40" height="4.50" fill="#fff"/>
<rect x="302.00" y="118.00" width="2.40" height="4.00" fill="#fff"/>
<rect x="302.00" y="125.00" width="2.40" height="4.00" fill="#fff"/>
<rect x="307.00" y="118.00" width="2.40" height="4.00" fill="#fff"/>
<rect x="307.00" y="125.00" width="2.40" height="4.00" fill="#fff"/>
<rect x="344.00" y="118.00" width="2.40" height="4.00" fill="#fff"/>
<rect x="344.00" y="125.00" width="2.40" height="4.00" fill="#fff"/>
<rect x="348.50" y="118.00" width="2.40" height="4.00" fill="#fff"/>
<rect x="348.50" y="125.00" width="2.40" height="4.00" fill="#fff"/>
<rect x="312.00" y="118.00" width="29.00" height="11.00" fill="#fff"/>
<text id="tag0" x="313.50" y="127.00" font-size="11" textLength="26.60" lengthAdjust="spacingAndGlyphs">TAG0</text>
<polygon points="119.00,327.00 172.20,327.00 172.20,353.70 124.80,353.70 124.80,347.00 119.00,347.00 119.00,337.50 121.50,336.70 121.50,334.50 119.00,333.80" fill="#000"/>
<rect x="121.00" y="329.00" width="2.80" height="3.90" fill="#fff"/>
<rect x="125.66" y="329.00" width="2.80" height="3.90" fill="#fff"/>
<rect x="130.32" y="329.00" width="2.80" height="3.90" fill="#fff"/>
<rect x="134.98" y="329.00" width="2.80" height="3.90" fill="#fff"/>
<rect x="139.64" y="329.00" width="2.80" height="3.90" fill="#fff"/>
<rect x="144.30" y="329.00" width="2.80" height="3.90" fill="#fff"/>
<rect x="148.96" y="329.00" width="2.80" height="3.90" fill="#fff"/>
<rect x="153.62" y="329.00" width="2.80" height="3.90" fill="#fff"/>
<rect x="158.28" y="329.00" width="2.80" height="3.90" fill="#fff"/>
<rect x="162.94" y="329.00" width="2.80" height="3.90" fill="#fff"/>
<rect x="167.60" y="329.00" width="2.80" height="3.90" fill="#fff"/>
<rect x="121.00" y="335.10" width="2.80" height="3.90" fill="#fff"/>
<rect x="125.66" y="335.10" width="2.80" height="3.90" fill="#fff"/>
<rect x="130.32" y="335.10" width="2.80" height="3.90" fill="#fff"/>
<rect x="134.98" y="335.10" width="2.80" height="3.90" fill="#fff"/>
<rect x="139.64" y="335.10" width="2.80" height="3.90" fill="#fff"/>
<rect x="144.30" y="335.10" width="2.80" height="3.90" fill="#fff"/>
<rect x="148.96" y="335.10" width="2.80" height="3.90" fill="#fff"/>
<rect x="153.62" y="335.10" width="2.80" height="3.90" fill="#fff"/>
<rect x="158.28" y="335.10" width="2.80" height="3.90" fill="#fff"/>
<rect x="162.94" y="335.10" width="2.80" height="3.90" fill="#fff"/>
<rect x="167.60" y="335.10" width="2.80" height="3.90" fill="#fff"/>
<rect x="121.00" y="341.20" width="2.80" height="3.90" fill="#fff"/>
<rect x="125.66" y="341.20" width="2.80" height="3.90" fill="#fff"/>
<rect x="130.32" y="341.20" width="2.80" height="3.90" fill="#fff"/>
<rect x="134.98" y="341.20" width="2.80" height="3.90" fill="#fff"/>
<rect x="139.64" y="341.20" width="2.80" height="3.90" fill="#fff"/>
<rect x="144.30" y="341.20" width="2.80" height="3.90" fill="#fff"/>
<rect x="148.96" y="341.20" width="2.80" height="3.90" fill="#fff"/>
<rect x="153.62" y="341.20" width="2.80" height="3.90" fill="#fff"/>
<rect x="158.28" y="341.20" width="2.80" height="3.90" fill="#fff"/>
<rect x="162.94" y="341.20" width="2.80" height="3.90" fill="#fff"/>
<rect x="167.60" y="341.20" width="2.80" height="3.90" fill="#fff"/>
<rect x="125.66" y="347.30" width="2.80" height="3.90" fill="#fff"/>
<rect x="130.32" y="347.30" width="2.80" height="3.90" fill="#fff"/>
<rect x="134.98" y="347.30" width="2.80" height="3.90" fill="#fff"/>
<rect x="139.64" y="347.30" width="2.80" height="3.90" fill="#fff"/>
<rect x="144.30" y="347.30" width="2.80" height="3.90" fill="#fff"/>
<rect x="148.96" y="347.30" width="2.80" height="3.90" fill="#fff"/>
<rect x="153.62" y="347.30" width="2.80" height="3.90" fill="#fff"/>
<rect x="158.28" y="347.30" width="2.80" height="3.90" fill="#fff"/>
<rect x="162.94" y="347.30" width="2.80" height="3.90" fill="#fff"/>
<rect x="167.60" y="347.30" width="2.80" height="3.90" fill="#fff"/>
<polygon points="119.00,354.70 172.20,354.70 172.20,381.40 124.80,381.40 124.80,374.70 119.00,374.70 119.00,365.20 121.50,364.40 121.50,362.20 119.00,361.50" fill="#000"/>
<rect x="121.00" y="356.70" width="2.80" height="3.90" fill="#fff"/>
<rect x="125.66" y="356.70" width="2.80" height="3.90" fill="#fff"/>
<rect x="130.32" y="356.70" width="2.80" height="3.90" fill="#fff"/>
<rect x="134.98" y="356.70" width="2.80" height="3.90" fill="#fff"/>
<rect x="139.64" y="356.70" width="2.80" height="3.90" fill="#fff"/>
<rect x="144.30" y="356.70" width="2.80" height="3.90" fill="#fff"/>
<rect x="148.96" y="356.70" width="2.80" height="3.90" fill="#fff"/>
<rect x="153.62" y="356.70" width="2.80" height="3.90" fill="#fff"/>
<rect x="158.28" y="356.70" width="2.80" height="3.90" fill="#fff"/>
<rect x="162.94" y="356.70" width="2.80" height="3.90" fill="#fff"/>
<rect x="167.60" y="356.70" width="2.80" height="3.90" fill="#fff"/>
<rect x="121.00" y="362.80" width="2.80" height="3.90" fill="#fff"/>
<rect x="125.66" y="362.80" width="2.80" height="3.90" fill="#fff"/>
<rect x="130.32" y="362.80" width="2.80" height="3.90" fill="#fff"/>
<rect x="134.98" y="362.80" width="2.80" height="3.90" fill="#fff"/>
<rect x="139.64" y="362.80" width="2.80" height="3.90" fill="#fff"/>
<rect x="144.30" y="362.80" width="2.80" height="3.90" fill="#fff"/>
<rect x="148.96" y="362.80" width="2.80" height="3.90" fill="#fff"/>
<rect x="153.62" y="362.80" width="2.80" height="3.90" fill="#fff"/>
<rect x="158.28" y="362.80" width="2.80" height="3.90" fill="#fff"/>
<rect x="162.94" y="362.80" width="2.80" height="3.90" fill="#fff"/>
<rect x="167.60" y="362.80" width="2.80" height="3.90" fill="#fff"/>
<rect x="121.00" y="368.90" width="2.80" height="3.90" fill="#fff"/>
<rect x="125.66" y="368.90" width="2.80" height="3.90" fill="#fff"/>
<rect x="130.32" y="368.90" width="2.80" height="3.90" fill="#fff"/>
<rect x="134.98" y="368.90" width="2.80" height="3.90" fill="#fff"/>
<rect x="139.64" y="368.90" width="2.80" height="3.90" fill="#fff"/>
<rect x="144.30" y="368.90" width="2.80" height="3.90" fill="#fff"/>
<rect x="148.96" y="368.90" width="2.80" height="3.90" fill="#fff"/>
<rect x="153.62" y="368.90" width="2.80" height="3.90" fill="#fff"/>
<rect x="158.28" y="368.90" width="2.80" height="3.90" fill="#fff"/>
<rect x="162.94" y="368.90" width="2.80" height="3.90" fill="#fff"/>
<rect x="167.60" y="368.90" width="2.80" height="3.90" fill="#fff"/>
<rect x="125.66" y="375.00" width="2.80" height="3.90" fill="#fff"/>
<rect x="130.32" y="375.00" width="2.80" height="3.90" fill="#fff"/>
<rect x="134.98" y="375.00" width="2.80" height="3.90" fill="#fff"/>
<rect x="139.64" y="375.00" width="2.80" height="3.90" fill="#fff"/>
<rect x="144.30" y="375.00" width="2.80" height="3.90" fill="#fff"/>
<rect x="148.96" y="375.00" width="2.80" height="3.90" fill="#fff"/>
<rect x="153.62" y="375.00" width="2.80" height="3.90" fill="#fff"/>
<rect x="158.28" y="375.00" width="2.80" height="3.90" fill="#fff"/>
<rect x="162.94" y="375.00" width="2.80" height="3.90" fill="#fff"/>
<rect x="167.60" y="375.00" width="2.80" height="3.90" fill="#fff"/>
<rect x="119.00" y="353.70" width="54.00" height="1.00" fill="#fff"/>
<rect x="128.20" y="346.60" width="35.80" height="14.60" fill="#000"/>
<rect x="129.50" y="347.80" width="33.00" height="12.00" rx="2" ry="2" fill="#fff"/>
<text id="tag1" x="132.94" y="358.30" font-size="11" textLength="27.58" lengthAdjust="spacingAndGlyphs">TAG1</text>
<rect x="32.00" y="86.00" width="75.00" height="73.00" fill="#000"/>
<rect x="35.40" y="89.00" width="2.00" height="1.80" fill="#fff"/>
<rect x="40.09" y="89.00" width="2.00" height="1.80" fill="#fff"/>
<rect x="44.78" y="89.00" width="2.00" height="1.80" fill="#fff"/>
<rect x="49.47" y="89.00" width="2.00" height="1.80" fill="#fff"/>
<rect x="54.16" y="89.00" width="2.00" height="1.80" fill="#fff"/>
<rect x="58.85" y="89.00" width="2.00" height="1.80" fill="#fff"/>
<rect x="63.54" y="89.00" width="2.00" height="1.80" fill="#fff"/>
<rect x="68.23" y="89.00" width="2.00" height="1.80" fill="#fff"/>
<rect x="72.92" y="89.00" width="2.00" height="1.80" fill="#fff"/>
<rect x="77.61" y="89.00" width="2.00" height="1.80" fill="#fff"/>
<rect x="82.30" y="89.00" width="2.00" height="1.80" fill="#fff"/>
<rect x="86.99" y="89.00" width="2.00" height="1.80" fill="#fff"/>
<rect x="91.68" y="89.00" width="2.00" height="1.80" fill="#fff"/>
<rect x="96.37" y="89.00" width="2.00" height="1.80" fill="#fff"/>
<rect x="101.06" y="89.00" width="2.00" height="1.80" fill="#fff"/>
<rect x="35.40" y="93.63" width="2.00" height="1.80" fill="#fff"/>
<rect x="40.09" y="93.63" width="2.00" height="1.80" fill="#fff"/>
<rect x="44.78" y="93.63" width="2.00" height="1.80" fill="#fff"/>
<rect x="49.47" y="93.63" width="2.00" height="1.80" fill="#fff"/>
<rect x="54.16" y="93.63" width="2.00" height="1.80" fill="#fff"/>
<rect x="58.85" y="93.63" width="2.00" height="1.80" fill="#fff"/>
<rect x="63.54" y="93.63" width="2.00" height="1.80" fill="#fff"/>
<rect x="68.23" y="93.63" width="2.00" height="1.80" fill="#fff"/>
<rect x="72.92" y="93.63" width="2.00" height="1.80" fill="#fff"/>
<rect x="77.61" y="93.63" width="2.00" height="1.80" fill="#fff"/>
<rect x="82.30" y="93.63" width="2.00" height="1.80" fill="#fff"/>
<rect x="86.99" y="93.63" width="2.00" height="1.80" fill="#fff"/>
<rect x="91.68" y="93.63" width="2.00" height="1.80" fill="#fff"/>
<rect x="96.37" y="93.63" width="2.00" height="1.80" fill="#fff"/>
<rect x="101.06" y="93.63" width="2.00" height="1.80" fill="#fff"/>
<rect x="35.40" y="98.26" width="2.00" height="1.80" fill="#fff"/>
<rect x="40.09" y="98.26" width="2.00" height="1.80" fill="#fff"/>
<rect x="44.78" y="98.26" width="2.00" height="1.80" fill="#fff"/>
<rect x="49.47" y="98.26" width="2.00" height="1.80" fill="#fff"/>
<rect x="54.16" y="98.26" width="2.00" height="1.80" fill="#fff"/>
<rect x="58.85" y="98.26" width="2.00" height="1.80" fill="#fff"/>
<rect x="63.54" y="98.26" width="2.00" height="1.80" fill="#fff"/>
<rect x="68.23" y="98.26" width="2.00" height="1.80" fill="#fff"/>
<rect x="72.92" y="98.26" width="2.00" height="1.80" fill="#fff"/>
<rect x="77.61" y="98.26" width="2.00" height="1.80" fill="#fff"/>
<rect x="82.30" y="98.26" width="2.00" height="1.80" fill="#fff"/>
<rect x="86.99" y="98.26" width="2.00" height="1.80" fill="#fff"/>
<rect x="91.68" y="98.26" width="2.00" height="1.80" fill="#fff"/>
<rect x="96.37" y="98.26" width="2.00" height="1.80" fill="#fff"/>
<rect x="101.06" y="98.26" width="2.00" height="1.80" fill="#fff"/>
<rect x="35.40" y="102.89" width="2.00" height="1.80" fill="#fff"/>
<rect x="40.09" y="102.89" width="2.00" height="1.80" fill="#fff"/>
<rect x="44.78" y="102.89" width="2.00" height="1.80" fill="#fff"/>
<rect x="91.68" y="102.89" width="2.00" height="1.80" fill="#fff"/>
<rect x="96.37" y="102.89" width="2.00" height="1.80" fill="#fff"/>
<rect x="101.06" y="102.89" width="2.00" height="1.80" fill="#fff"/>
<rect x="35.40" y="107.52" width="2.00" height="1.80" fill="#fff"/>
<rect x="40.09" y="107.52" width="2.00" height="1.80" fill="#fff"/>
<rect x="44.78" y="107.52" width="2.00" height="1.80" fill="#fff"/>
<rect x="91.68" y="107.52" width="2.00" height="1.80" fill="#fff"/>
<rect x="96.37" y="107.52" width="2.00" height="1.80" fill="#fff"/>
<rect x="101.06" y="107.52" width="2.00" height="1.80" fill="#fff"/>
<rect x="35.40" y="112.15" width="2.00" height="1.80" fill="#fff"/>
<rect x="40.09" y="112.15" width="2.00" height="1.80" fill="#fff"/>
<rect x="44.78" y="112.15" width="2.00" height="1.80" fill="#fff"/>
<rect x="91.68" y="112.15" width="2.00" height="1.80" fill="#fff"/>
<rect x="96.37" y="112.15" width="2.00" height="1.80" fill="#fff"/>
<rect x="101.06" y="112.15" width="2.00" height="1.80" fill="#fff"/>
<rect x="35.40" y="116.78" width="2.00" height="1.80" fill="#fff"/>
<rect x="40.09" y="116.78" width="2.00" height="1.80" fill="#fff"/>
<rect x="44.78" y="116.78" width="2.00" height="1.80" fill="#fff"/>
<rect x="91.68" y="116.78" width="2.00" height="1.80" fill="#fff"/>
<rect x="96.37" y="116.78" width="2.00" height="1.80" fill="#fff"/>
<rect x="101.06" y="116.78" width="2.00" height="1.80" fill="#fff"/>
<rect x="35.40" y="121.41" width="2.00" height="1.80" fill="#fff"/>
<rect x="40.09" y="121.41" width="2.00" height="1.80" fill="#fff"/>
<rect x="44.78" y="121.41" width="2.00" height="1.80" fill="#fff"/>
<rect x="91.68" y="121.41" width="2.00" height="1.80" fill="#fff"/>
<rect x="96.37" y="121.41" width="2.00" height="1.80" fill="#fff"/>
<rect x="101.06" y="121.41" width="2.00" height="1.80" fill="#fff"/>
<rect x="35.40" y="126.04" width="2.00" height="1.80" fill="#fff"/>
<rect x="40.09" y="126.04" width="2.00" height="1.80" fill="#fff"/>
<rect x="44.78" y="126.04" width="2.00" height="1.80" fill="#fff"/>
<rect x="91.68" y="126.04" width="2.00" height="1.80" fill="#fff"/>
<rect x="96.37" y="126.04" width="2.00" height="1.80" fill="#fff"/>
<rect x="101.06" y="126.04" width="2.00" height="1.80" fill="#fff"/>
<rect x="35.40" y="130.67" width="2.00" height="1.80" fill="#fff"/>
<rect x="40.09" y="130.67" width="2.00" height="1.80" fill="#fff"/>
<rect x="44.78" y="130.67" width="2.00" height="1.80" fill="#fff"/>
<rect x="91.68" y="130.67" width="2.00" height="1.80" fill="#fff"/>
<rect x="96.37" y="130.67" width="2.00" height="1.80" fill="#fff"/>
<rect x="101.06" y="130.67" width="2.00" height="1.80" fill="#fff"/>
<rect x="35.40" y="135.30" width="2.00" height="1.80" fill="#fff"/>
<rect x="40.09" y="135.30" width="2.00" height="1.80" fill="#fff"/>
<rect x="44.78" y="135.30" width="2.00" height="1.80" fill="#fff"/>
<rect x="91.68" y="135.30" width="2.00" height="1.80" fill="#fff"/>
<rect x="96.37" y="135.30" width="2.00" height="1.80" fill="#fff"/>
<rect x="101.06" y="135.30" width="2.00" height="1.80" fill="#fff"/>
<rect x="35.40" y="139.93" width="2.00" height="1.80" fill="#fff"/>
<rect x="40.09" y="139.93" width="2.00" height="1.80" fill="#fff"/>
<rect x="44.78" y="139.93" width="2.00" height="1.80" fill="#fff"/>
<rect x="91.68" y="139.93" width="2.00" height="1.80" fill="#fff"/>
<rect x="96.37" y="139.93" width="2.00" height="1.80" fill="#fff"/>
<rect x="101.06" y="139.93" width="2.00" height="1.80" fill="#fff"/>
<rect x="35.40" y="144.56" width="2.00" height="1.80" fill="#fff"/>
<rect x="40.09" y="144.56" width="2.00" height="1.80" fill="#fff"/>
<rect x="44.78" y="144.56" width="2.00" height="1.80" fill="#fff"/>
<rect x="49.47" y="144.56" width="2.00" height="1.80" fill="#fff"/>
<rect x="54.16" y="144.56" width="2.00" height="1.80" fill="#fff"/>
<rect x="58.85" y="144.56" width="2.00" height="1.80" fill="#fff"/>
<rect x="63.54" y="144.56" width="2.00" height="1.80" fill="#fff"/>
<rect x="68.23" y="144.56" width="2.00" height="1.80" fill="#fff"/>
<rect x="72.92" y="144.56" width="2.00" height="1.80" fill="#fff"/>
<rect x="77.61" y="144.56" width="2.00" height="1.80" fill="#fff"/>
<rect x="82.30" y="144.56" width="2.00" height="1.80" fill="#fff"/>
<rect x="86.99" y="144.56" width="2.00" height="1.80" fill="#fff"/>
<rect x="91.68" y="144.56" width="2.00" height="1.80" fill="#fff"/>
<rect x="96.37" y="144.56" width="2.00" height="1.80" fill="#fff"/>
<rect x="101.06" y="144.56" width="2.00" height="1.80" fill="#fff"/>
<rect x="35.40" y="149.19" width="2.00" height="1.80" fill="#fff"/>
<rect x="40.09" y="149.19" width="2.00" height="1.80" fill="#fff"/>
<rect x="44.78" y="149.19" width="2.00" height="1.80" fill="#fff"/>
<rect x="49.47" y="149.19" width="2.00" height="1.80" fill="#fff"/>
<rect x="54.16" y="149.19" width="2.00" height="1.80" fill="#fff"/>
<rect x="58.85" y="149.19" width="2.00" height="1.80" fill="#fff"/>
<rect x="63.54" y="149.19" width="2.00" height="1.80" fill="#fff"/>
<rect x="68.23" y="149.19" width="2.00" height="1.80" fill="#fff"/>
<rect x="72.92" y="149.19" width="2.00" height="1.80" fill="#fff"/>
<rect x="77.61" y="149.19" width="2.00" height="1.80" fill="#fff"/>
<rect x="82.30" y="149.19" width="2.00" height="1.80" fill="#fff"/>
<rect x="86.99" y="149.19" width="2.00" height="1.80" fill="#fff"/>
<rect x="91.68" y="149.19" width="2.00" height="1.80" fill="#fff"/>
<rect x="96.37" y="149.19" width="2.00" height="1.80" fill="#fff"/>
<rect x="101.06" y="149.19" width="2.00" height="1.80" fill="#fff"/>
<rect x="35.40" y="153.82" width="2.00" height="1.80" fill="#fff"/>
<rect x="40.09" y="153.82" width="2.00" height="1.80" fill="#fff"/>
<rect x="44.78" y="153.82" width="2.00" height="1.80" fill="#fff"/>
<rect x="49.47" y="153.82" width="2.00" height="1.80" fill="#fff"/>
<rect x="54.16" y="153.82" width="2.00" height="1.80" fill="#fff"/>
<rect x="58.85" y="153.82" width="2.00" height="1.80" fill="#fff"/>
<rect x="63.54" y="153.82" width="2.00" height="1.80" fill="#fff"/>
<rect x="68.23" y="153.82" width="2.00" height="1.80" fill="#fff"/>
<rect x="72.92" y="153.82" width="2.00" height="1.80" fill="#fff"/>
<rect x="77.61" y="153.82" width="2.00" height="1.80" fill="#fff"/>
<rect x="82.30" y="153.82" width="2.00" height="1.80" fill="#fff"/>
<rect x="86.99" y="153.82" width="2.00" height="1.80" fill="#fff"/>
<rect x="91.68" y="153.82" width="2.00" height="1.80" fill="#fff"/>
<rect x="96.37" y="153.82" width="2.00" height="1.80" fill="#fff"/>
<rect x="101.06" y="153.82" width="2.00" height="1.80" fill="#fff"/>
<rect x="51.00" y="105.00" width="36.00" height="35.70" fill="#fff"/>
<rect x="57.00" y="115.30" width="26.00" height="14.70" rx="3" ry="3" fill="#000"/>
<rect x="58.50" y="116.75" width="22.15" height="10.95" rx="1.8" ry="1.8" fill="#fff"/>
<text id="npu" x="58.46" y="126.60" font-size="11" textLength="21.65" lengthAdjust="spacingAndGlyphs">NPU</text>
<rect x="53.00" y="177.00" width="86.00" height="86.00" fill="#000"/>
<rect x="56.15" y="180.80" width="2.90" height="2.20" fill="#fff"/>
<rect x="61.66" y="180.80" width="2.90" height="2.20" fill="#fff"/>
<rect x="67.17" y="180.80" width="2.90" height="2.20" fill="#fff"/>
<rect x="72.68" y="180.80" width="2.90" height="2.20" fill="#fff"/>
<rect x="78.19" y="180.80" width="2.90" height="2.20" fill="#fff"/>
<rect x="83.70" y="180.80" width="2.90" height="2.20" fill="#fff"/>
<rect x="89.21" y="180.80" width="2.90" height="2.20" fill="#fff"/>
<rect x="94.72" y="180.80" width="2.90" height="2.20" fill="#fff"/>
<rect x="100.23" y="180.80" width="2.90" height="2.20" fill="#fff"/>
<rect x="105.74" y="180.80" width="2.90" height="2.20" fill="#fff"/>
<rect x="111.25" y="180.80" width="2.90" height="2.20" fill="#fff"/>
<rect x="116.76" y="180.80" width="2.90" height="2.20" fill="#fff"/>
<rect x="122.27" y="180.80" width="2.90" height="2.20" fill="#fff"/>
<rect x="127.78" y="180.80" width="2.90" height="2.20" fill="#fff"/>
<rect x="133.29" y="180.80" width="2.90" height="2.20" fill="#fff"/>
<rect x="56.15" y="186.09" width="2.90" height="2.20" fill="#fff"/>
<rect x="61.66" y="186.09" width="2.90" height="2.20" fill="#fff"/>
<rect x="67.17" y="186.09" width="2.90" height="2.20" fill="#fff"/>
<rect x="72.68" y="186.09" width="2.90" height="2.20" fill="#fff"/>
<rect x="78.19" y="186.09" width="2.90" height="2.20" fill="#fff"/>
<rect x="83.70" y="186.09" width="2.90" height="2.20" fill="#fff"/>
<rect x="89.21" y="186.09" width="2.90" height="2.20" fill="#fff"/>
<rect x="94.72" y="186.09" width="2.90" height="2.20" fill="#fff"/>
<rect x="100.23" y="186.09" width="2.90" height="2.20" fill="#fff"/>
<rect x="105.74" y="186.09" width="2.90" height="2.20" fill="#fff"/>
<rect x="111.25" y="186.09" width="2.90" height="2.20" fill="#fff"/>
<rect x="116.76" y="186.09" width="2.90" height="2.20" fill="#fff"/>
<rect x="122.27" y="186.09" width="2.90" height="2.20" fill="#fff"/>
<rect x="127.78" y="186.09" width="2.90" height="2.20" fill="#fff"/>
<rect x="133.29" y="186.09" width="2.90" height="2.20" fill="#fff"/>
<rect x="56.15" y="191.38" width="2.90" height="2.20" fill="#fff"/>
<rect x="61.66" y="191.38" width="2.90" height="2.20" fill="#fff"/>
<rect x="67.17" y="191.38" width="2.90" height="2.20" fill="#fff"/>
<rect x="72.68" y="191.38" width="2.90" height="2.20" fill="#fff"/>
<rect x="78.19" y="191.38" width="2.90" height="2.20" fill="#fff"/>
<rect x="83.70" y="191.38" width="2.90" height="2.20" fill="#fff"/>
<rect x="89.21" y="191.38" width="2.90" height="2.20" fill="#fff"/>
<rect x="94.72" y="191.38" width="2.90" height="2.20" fill="#fff"/>
<rect x="100.23" y="191.38" width="2.90" height="2.20" fill="#fff"/>
<rect x="105.74" y="191.38" width="2.90" height="2.20" fill="#fff"/>
<rect x="111.25" y="191.38" width="2.90" height="2.20" fill="#fff"/>
<rect x="116.76" y="191.38" width="2.90" height="2.20" fill="#fff"/>
<rect x="122.27" y="191.38" width="2.90" height="2.20" fill="#fff"/>
<rect x="127.78" y="191.38" width="2.90" height="2.20" fill="#fff"/>
<rect x="133.29" y="191.38" width="2.90" height="2.20" fill="#fff"/>
<rect x="56.15" y="196.67" width="2.90" height="2.20" fill="#fff"/>
<rect x="61.66" y="196.67" width="2.90" height="2.20" fill="#fff"/>
<rect x="67.17" y="196.67" width="2.90" height="2.20" fill="#fff"/>
<rect x="122.27" y="196.67" width="2.90" height="2.20" fill="#fff"/>
<rect x="127.78" y="196.67" width="2.90" height="2.20" fill="#fff"/>
<rect x="133.29" y="196.67" width="2.90" height="2.20" fill="#fff"/>
<rect x="56.15" y="201.96" width="2.90" height="2.20" fill="#fff"/>
<rect x="61.66" y="201.96" width="2.90" height="2.20" fill="#fff"/>
<rect x="67.17" y="201.96" width="2.90" height="2.20" fill="#fff"/>
<rect x="122.27" y="201.96" width="2.90" height="2.20" fill="#fff"/>
<rect x="127.78" y="201.96" width="2.90" height="2.20" fill="#fff"/>
<rect x="133.29" y="201.96" width="2.90" height="2.20" fill="#fff"/>
<rect x="56.15" y="207.25" width="2.90" height="2.20" fill="#fff"/>
<rect x="61.66" y="207.25" width="2.90" height="2.20" fill="#fff"/>
<rect x="67.17" y="207.25" width="2.90" height="2.20" fill="#fff"/>
<rect x="122.27" y="207.25" width="2.90" height="2.20" fill="#fff"/>
<rect x="127.78" y="207.25" width="2.90" height="2.20" fill="#fff"/>
<rect x="133.29" y="207.25" width="2.90" height="2.20" fill="#fff"/>
<rect x="56.15" y="212.54" width="2.90" height="2.20" fill="#fff"/>
<rect x="61.66" y="212.54" width="2.90" height="2.20" fill="#fff"/>
<rect x="67.17" y="212.54" width="2.90" height="2.20" fill="#fff"/>
<rect x="122.27" y="212.54" width="2.90" height="2.20" fill="#fff"/>
<rect x="127.78" y="212.54" width="2.90" height="2.20" fill="#fff"/>
<rect x="133.29" y="212.54" width="2.90" height="2.20" fill="#fff"/>
<rect x="56.15" y="217.83" width="2.90" height="2.20" fill="#fff"/>
<rect x="61.66" y="217.83" width="2.90" height="2.20" fill="#fff"/>
<rect x="67.17" y="217.83" width="2.90" height="2.20" fill="#fff"/>
<rect x="122.27" y="217.83" width="2.90" height="2.20" fill="#fff"/>
<rect x="127.78" y="217.83" width="2.90" height="2.20" fill="#fff"/>
<rect x="133.29" y="217.83" width="2.90" height="2.20" fill="#fff"/>
<rect x="56.15" y="223.12" width="2.90" height="2.20" fill="#fff"/>
<rect x="61.66" y="223.12" width="2.90" height="2.20" fill="#fff"/>
<rect x="67.17" y="223.12" width="2.90" height="2.20" fill="#fff"/>
<rect x="122.27" y="223.12" width="2.90" height="2.20" fill="#fff"/>
<rect x="127.78" y="223.12" width="2.90" height="2.20" fill="#fff"/>
<rect x="133.29" y="223.12" width="2.90" height="2.20" fill="#fff"/>
<rect x="56.15" y="228.41" width="2.90" height="2.20" fill="#fff"/>
<rect x="61.66" y="228.41" width="2.90" height="2.20" fill="#fff"/>
<rect x="67.17" y="228.41" width="2.90" height="2.20" fill="#fff"/>
<rect x="122.27" y="228.41" width="2.90" height="2.20" fill="#fff"/>
<rect x="127.78" y="228.41" width="2.90" height="2.20" fill="#fff"/>
<rect x="133.29" y="228.41" width="2.90" height="2.20" fill="#fff"/>
<rect x="56.15" y="233.70" width="2.90" height="2.20" fill="#fff"/>
<rect x="61.66" y="233.70" width="2.90" height="2.20" fill="#fff"/>
<rect x="67.17" y="233.70" width="2.90" height="2.20" fill="#fff"/>
<rect x="122.27" y="233.70" width="2.90" height="2.20" fill="#fff"/>
<rect x="127.78" y="233.70" width="2.90" height="2.20" fill="#fff"/>
<rect x="133.29" y="233.70" width="2.90" height="2.20" fill="#fff"/>
<rect x="56.15" y="238.99" width="2.90" height="2.20" fill="#fff"/>
<rect x="61.66" y="238.99" width="2.90" height="2.20" fill="#fff"/>
<rect x="67.17" y="238.99" width="2.90" height="2.20" fill="#fff"/>
<rect x="122.27" y="238.99" width="2.90" height="2.20" fill="#fff"/>
<rect x="127.78" y="238.99" width="2.90" height="2.20" fill="#fff"/>
<rect x="133.29" y="238.99" width="2.90" height="2.20" fill="#fff"/>
<rect x="56.15" y="244.28" width="2.90" height="2.20" fill="#fff"/>
<rect x="61.66" y="244.28" width="2.90" height="2.20" fill="#fff"/>
<rect x="67.17" y="244.28" width="2.90" height="2.20" fill="#fff"/>
<rect x="72.68" y="244.28" width="2.90" height="2.20" fill="#fff"/>
<rect x="78.19" y="244.28" width="2.90" height="2.20" fill="#fff"/>
<rect x="83.70" y="244.28" width="2.90" height="2.20" fill="#fff"/>
<rect x="89.21" y="244.28" width="2.90" height="2.20" fill="#fff"/>
<rect x="94.72" y="244.28" width="2.90" height="2.20" fill="#fff"/>
<rect x="100.23" y="244.28" width="2.90" height="2.20" fill="#fff"/>
<rect x="105.74" y="244.28" width="2.90" height="2.20" fill="#fff"/>
<rect x="111.25" y="244.28" width="2.90" height="2.20" fill="#fff"/>
<rect x="116.76" y="244.28" width="2.90" height="2.20" fill="#fff"/>
<rect x="122.27" y="244.28" width="2.90" height="2.20" fill="#fff"/>
<rect x="127.78" y="244.28" width="2.90" height="2.20" fill="#fff"/>
<rect x="133.29" y="244.28" width="2.90" height="2.20" fill="#fff"/>
<rect x="56.15" y="249.57" width="2.90" height="2.20" fill="#fff"/>
<rect x="61.66" y="249.57" width="2.90" height="2.20" fill="#fff"/>
<rect x="67.17" y="249.57" width="2.90" height="2.20" fill="#fff"/>
<rect x="72.68" y="249.57" width="2.90" height="2.20" fill="#fff"/>
<rect x="78.19" y="249.57" width="2.90" height="2.20" fill="#fff"/>
<rect x="83.70" y="249.57" width="2.90" height="2.20" fill="#fff"/>
<rect x="89.21" y="249.57" width="2.90" height="2.20" fill="#fff"/>
<rect x="94.72" y="249.57" width="2.90" height="2.20" fill="#fff"/>
<rect x="100.23" y="249.57" width="2.90" height="2.20" fill="#fff"/>
<rect x="105.74" y="249.57" width="2.90" height="2.20" fill="#fff"/>
<rect x="111.25" y="249.57" width="2.90" height="2.20" fill="#fff"/>
<rect x="116.76" y="249.57" width="2.90" height="2.20" fill="#fff"/>
<rect x="122.27" y="249.57" width="2.90" height="2.20" fill="#fff"/>
<rect x="127.78" y="249.57" width="2.90" height="2.20" fill="#fff"/>
<rect x="133.29" y="249.57" width="2.90" height="2.20" fill="#fff"/>
<rect x="56.15" y="254.86" width="2.90" height="2.20" fill="#fff"/>
<rect x="61.66" y="254.86" width="2.90" height="2.20" fill="#fff"/>
<rect x="67.17" y="254.86" width="2.90" height="2.20" fill="#fff"/>
<rect x="72.68" y="254.86" width="2.90" height="2.20" fill="#fff"/>
<rect x="78.19" y="254.86" width="2.90" height="2.20" fill="#fff"/>
<rect x="83.70" y="254.86" width="2.90" height="2.20" fill="#fff"/>
<rect x="89.21" y="254.86" width="2.90" height="2.20" fill="#fff"/>
<rect x="94.72" y="254.86" width="2.90" height="2.20" fill="#fff"/>
<rect x="100.23" y="254.86" width="2.90" height="2.20" fill="#fff"/>
<rect x="105.74" y="254.86" width="2.90" height="2.20" fill="#fff"/>
<rect x="111.25" y="254.86" width="2.90" height="2.20" fill="#fff"/>
<rect x="116.76" y="254.86" width="2.90" height="2.20" fill="#fff"/>
<rect x="122.27" y="254.86" width="2.90" height="2.20" fill="#fff"/>
<rect x="127.78" y="254.86" width="2.90" height="2.20" fill="#fff"/>
<rect x="133.29" y="254.86" width="2.90" height="2.20" fill="#fff"/>
<rect x="75.00" y="198.30" width="42.30" height="43.00" fill="#fff"/>
<rect x="82.00" y="212.00" width="27.30" height="15.00" rx="3" ry="3" fill="#000"/>
<rect x="83.50" y="213.45" width="23.45" height="11.25" rx="1.8" ry="1.8" fill="#fff"/>
<text id="cpu" x="84.94" y="224.20" font-size="11" textLength="20.19" lengthAdjust="spacingAndGlyphs">CPU</text>
<rect x="253.00" y="209.00" width="71.00" height="34.00" fill="#000"/>
<rect x="254.70" y="240.60" width="2.60" height="1.00" fill="#fff"/>
<rect x="259.70" y="240.60" width="2.60" height="1.00" fill="#fff"/>
<rect x="264.70" y="240.60" width="2.60" height="1.00" fill="#fff"/>
<rect x="269.70" y="240.60" width="2.60" height="1.00" fill="#fff"/>
<rect x="274.70" y="240.60" width="2.60" height="1.00" fill="#fff"/>
<rect x="279.70" y="240.60" width="2.60" height="1.00" fill="#fff"/>
<rect x="284.70" y="240.60" width="2.60" height="1.00" fill="#fff"/>
<rect x="289.70" y="240.60" width="2.60" height="1.00" fill="#fff"/>
<rect x="294.70" y="240.60" width="2.60" height="1.00" fill="#fff"/>
<rect x="299.70" y="240.60" width="2.60" height="1.00" fill="#fff"/>
<rect x="304.70" y="240.60" width="2.60" height="1.00" fill="#fff"/>
<rect x="309.70" y="240.60" width="2.60" height="1.00" fill="#fff"/>
<rect x="314.70" y="240.60" width="2.60" height="1.00" fill="#fff"/>
<rect x="319.70" y="240.60" width="2.60" height="1.00" fill="#fff"/>
<rect x="273.00" y="220.00" width="32.00" height="12.00" rx="2" ry="2" fill="#fff"/>
<text id="bios1" x="276.48" y="230.20" font-size="10" textLength="22.64" lengthAdjust="spacingAndGlyphs">B IO S</text>
<rect x="253.00" y="249.00" width="71.00" height="34.00" fill="#000"/>
<rect x="254.70" y="280.60" width="2.60" height="1.00" fill="#fff"/>
<rect x="259.70" y="280.60" width="2.60" height="1.00" fill="#fff"/>
<rect x="264.70" y="280.60" width="2.60" height="1.00" fill="#fff"/>
<rect x="269.70" y="280.60" width="2.60" height="1.00" fill="#fff"/>
<rect x="274.70" y="280.60" width="2.60" height="1.00" fill="#fff"/>
<rect x="279.70" y="280.60" width="2.60" height="1.00" fill="#fff"/>
<rect x="284.70" y="280.60" width="2.60" height="1.00" fill="#fff"/>
<rect x="289.70" y="280.60" width="2.60" height="1.00" fill="#fff"/>
<rect x="294.70" y="280.60" width="2.60" height="1.00" fill="#fff"/>
<rect x="299.70" y="280.60" width="2.60" height="1.00" fill="#fff"/>
<rect x="304.70" y="280.60" width="2.60" height="1.00" fill="#fff"/>
<rect x="309.70" y="280.60" width="2.60" height="1.00" fill="#fff"/>
<rect x="314.70" y="280.60" width="2.60" height="1.00" fill="#fff"/>
<rect x="319.70" y="280.60" width="2.60" height="1.00" fill="#fff"/>
<rect x="273.00" y="260.00" width="32.00" height="12.00" rx="2" ry="2" fill="#fff"/>
<text id="bios2" x="276.48" y="270.20" font-size="10" textLength="22.64" lengthAdjust="spacingAndGlyphs">B IO S</text>
<rect x="523.00" y="504.00" width="102.00" height="35.00" fill="#000"/>
<rect x="622.30" y="517.00" width="3.70" height="8.30" rx="1.2" ry="1.2" fill="#fff"/>
<rect x="563.00" y="516.00" width="22.20" height="10.80" fill="#fff"/>
<text id="kbd" x="564.42" y="525.30" font-size="10.5" textLength="19.60" lengthAdjust="spacingAndGlyphs">KBD</text>
<rect x="25.00" y="16.00" width="6.00" height="12.00" fill="#000"/>
<rect x="26.00" y="17.00" width="4.00" height="1.00" fill="#fff"/>
<rect x="26.00" y="26.00" width="4.00" height="1.00" fill="#fff"/>
<polygon points="31.00,21.10 34.00,21.10 34.00,20.10 39.00,20.10 44.00,18.30 44.00,25.30 39.00,23.50 34.00,23.50 34.00,22.50 31.00,22.50" fill="#000"/>
<rect x="43.00" y="15.00" width="20.90" height="14.50" rx="2.2" ry="2.2" fill="#000"/>
<rect x="44.50" y="16.45" width="17.05" height="10.75" rx="1.0000000000000002" ry="1.0000000000000002" fill="#fff"/>
<polygon points="38.80,21.80 46.30,20.90 46.30,22.70" fill="#fff"/>
<text id="j1" x="47.40" y="25.90" font-size="11" textLength="8.24" lengthAdjust="spacingAndGlyphs">J1</text>
<rect x="98.80" y="56.20" width="15.00" height="4.50" fill="#000"/>
<rect x="101.00" y="57.40" width="1.60" height="2.10" fill="#fff"/>
<rect x="104.00" y="57.40" width="1.20" height="2.10" fill="#fff"/>
<rect x="108.80" y="57.40" width="1.40" height="2.10" fill="#fff"/>
<rect x="98.80" y="63.00" width="15.00" height="4.80" fill="#000"/>
<rect x="101.00" y="64.20" width="1.60" height="2.40" fill="#fff"/>
<rect x="104.00" y="64.20" width="1.20" height="2.40" fill="#fff"/>
<rect x="108.80" y="64.20" width="1.40" height="2.40" fill="#fff"/>
<line x1="91.50" y1="51.50" x2="99.50" y2="58.80" stroke="#000" stroke-width="2.6"/>
<rect x="74.20" y="39.20" width="19.50" height="14.50" rx="2.2" ry="2.2" fill="#000"/>
<rect x="75.70" y="40.65" width="15.65" height="10.75" rx="1.0000000000000002" ry="1.0000000000000002" fill="#fff"/>
<text id="w1" x="76.44" y="49.60" font-size="11" textLength="13.13" lengthAdjust="spacingAndGlyphs">W1</text>
<polygon points="98.80,64.70 95.80,64.70 95.80,63.70 92.10,63.70 87.10,61.90 87.10,68.90 92.10,67.10 95.80,67.10 95.80,66.10 98.80,66.10" fill="#000"/>
<rect x="67.20" y="58.20" width="20.80" height="14.80" rx="2.2" ry="2.2" fill="#000"/>
<rect x="68.70" y="59.65" width="16.95" height="11.05" rx="1.0000000000000002" ry="1.0000000000000002" fill="#fff"/>
<polygon points="92.00,65.40 84.50,64.50 84.50,66.30" fill="#fff"/>
<text id="w2" x="69.42" y="68.80" font-size="11" textLength="14.21" lengthAdjust="spacingAndGlyphs">W2</text>
<rect x="176.00" y="280.00" width="6.00" height="14.80" fill="#000"/>
<rect x="177.00" y="285.00" width="4.00" height="1.00" fill="#fff"/>
<rect x="177.00" y="290.00" width="4.00" height="1.00" fill="#fff"/>
<rect x="178.00" y="282.00" width="2.00" height="2.00" fill="#fff"/>
<polygon points="182.00,287.30 185.00,287.30 185.00,286.30 189.50,286.30 194.50,284.50 194.50,291.50 189.50,289.70 185.00,289.70 185.00,288.70 182.00,288.70" fill="#000"/>
<rect x="193.50" y="281.30" width="20.30" height="14.50" rx="2.2" ry="2.2" fill="#000"/>
<rect x="195.00" y="282.75" width="16.45" height="10.75" rx="1.0000000000000002" ry="1.0000000000000002" fill="#fff"/>
<polygon points="189.30,288.00 196.80,287.10 196.80,288.90" fill="#fff"/>
<text id="w3" x="196.40" y="292.20" font-size="11" textLength="13.87" lengthAdjust="spacingAndGlyphs">W3</text>
<rect x="420.00" y="313.00" width="11.00" height="15.00" fill="#000"/>
<rect x="421.80" y="315.00" width="2.20" height="2.00" fill="#fff"/>
<rect x="426.50" y="315.00" width="2.20" height="2.00" fill="#fff"/>
<rect x="421.00" y="318.40" width="9.00" height="0.90" fill="#fff"/>
<rect x="421.00" y="322.40" width="9.00" height="0.90" fill="#fff"/>
<path d="M422,305 Q429,308.5 429,314" fill="none" stroke="#000" stroke-width="2.8"/>
<rect x="404.00" y="293.00" width="21.00" height="14.60" rx="2.2" ry="2.2" fill="#000"/>
<rect x="405.50" y="294.45" width="17.15" height="10.85" rx="1.0000000000000002" ry="1.0000000000000002" fill="#fff"/>
<text id="w5" x="406.90" y="304.00" font-size="11" textLength="14.77" lengthAdjust="spacingAndGlyphs">W5</text>
<polygon points="420.00,320.30 417.00,320.30 417.00,319.30 414.00,319.30 409.00,317.50 409.00,324.50 414.00,322.70 417.00,322.70 417.00,321.70 420.00,321.70" fill="#000"/>
<rect x="389.00" y="313.50" width="21.00" height="15.10" rx="2.2" ry="2.2" fill="#000"/>
<rect x="390.50" y="314.95" width="17.15" height="11.35" rx="1.0000000000000002" ry="1.0000000000000002" fill="#fff"/>
<polygon points="414.10,321.00 406.60,320.10 406.60,321.90" fill="#fff"/>
<text id="w4" x="391.90" y="324.00" font-size="11" textLength="14.30" lengthAdjust="spacingAndGlyphs">W4</text>
<rect x="382.00" y="500.00" width="6.00" height="16.00" fill="#000"/>
<rect x="383.00" y="501.00" width="4.00" height="0.90" fill="#fff"/>
<rect x="383.00" y="505.50" width="4.00" height="1.00" fill="#fff"/>
<rect x="383.00" y="510.00" width="4.00" height="1.00" fill="#fff"/>
<rect x="383.60" y="502.80" width="2.40" height="1.60" fill="#fff"/>
<polygon points="388.00,506.80 391.00,506.80 391.00,505.80 396.00,505.80 401.00,504.00 401.00,511.00 396.00,509.20 391.00,509.20 391.00,508.20 388.00,508.20" fill="#000"/>
<rect x="400.00" y="500.00" width="20.30" height="15.20" rx="2.2" ry="2.2" fill="#000"/>
<rect x="401.50" y="501.45" width="16.45" height="11.45" rx="1.0000000000000002" ry="1.0000000000000002" fill="#fff"/>
<polygon points="395.80,507.50 403.30,506.60 403.30,508.40" fill="#fff"/>
<text id="w6" x="401.90" y="511.00" font-size="11" textLength="14.77" lengthAdjust="spacingAndGlyphs">W6</text>
<rect x="61.00" y="296.00" width="25.20" height="4.90" fill="#000"/>
<rect x="62.50" y="297.20" width="2.50" height="2.50" fill="#fff"/>
<rect x="66.30" y="297.20" width="1.00" height="2.50" fill="#fff"/>
<rect x="70.50" y="297.20" width="1.00" height="2.50" fill="#fff"/>
<rect x="75.00" y="297.20" width="1.00" height="2.50" fill="#fff"/>
<rect x="79.30" y="297.20" width="1.00" height="2.50" fill="#fff"/>
<rect x="61.00" y="304.20" width="10.50" height="5.20" fill="#000"/>
<rect x="62.50" y="305.40" width="2.00" height="2.80" fill="#fff"/>
<rect x="66.00" y="305.40" width="2.00" height="2.80" fill="#fff"/>
<rect x="75.00" y="304.20" width="11.20" height="5.20" fill="#000"/>
<rect x="79.00" y="305.40" width="1.50" height="2.80" fill="#fff"/>
<rect x="82.00" y="305.40" width="1.50" height="2.80" fill="#fff"/>
<rect x="61.00" y="313.20" width="21.00" height="4.80" fill="#000"/>
<rect x="62.50" y="314.40" width="1.00" height="2.40" fill="#fff"/>
<rect x="64.50" y="314.40" width="3.00" height="2.40" fill="#fff"/>
<rect x="70.50" y="314.40" width="2.00" height="2.40" fill="#fff"/>
<rect x="74.50" y="314.40" width="2.00" height="2.40" fill="#fff"/>
<rect x="78.50" y="314.40" width="2.00" height="2.40" fill="#fff"/>
<rect x="61.00" y="321.30" width="15.70" height="5.30" fill="#000"/>
<rect x="62.50" y="322.50" width="2.00" height="2.90" fill="#fff"/>
<rect x="66.00" y="322.50" width="1.00" height="2.90" fill="#fff"/>
<rect x="70.00" y="322.50" width="2.00" height="2.90" fill="#fff"/>
<polygon points="70.70,281.00 78.30,281.00 75.90,286.50 75.90,293.30 75.20,293.30 75.20,296.30 73.80,296.30 73.80,293.30 73.10,293.30 73.10,286.50" fill="#000"/>
<rect x="64.20" y="268.20" width="20.40" height="14.70" rx="2.2" ry="2.2" fill="#000"/>
<rect x="65.70" y="269.65" width="16.55" height="10.95" rx="1.0000000000000002" ry="1.0000000000000002" fill="#fff"/>
<polygon points="73.60,279.30 75.40,279.30 74.50,286.80" fill="#fff"/>
<text id="j2" x="68.46" y="279.10" font-size="11" textLength="12.06" lengthAdjust="spacingAndGlyphs">J2</text>
<line x1="53.80" y1="299.80" x2="61.80" y2="307.00" stroke="#000" stroke-width="2.2"/>
<rect x="36.40" y="287.00" width="19.50" height="15.30" rx="2.2" ry="2.2" fill="#000"/>
<rect x="37.90" y="288.45" width="15.65" height="11.55" rx="1.0000000000000002" ry="1.0000000000000002" fill="#fff"/>
<text id="j3" x="39.40" y="298.40" font-size="11" textLength="11.67" lengthAdjust="spacingAndGlyphs">J3</text>
<polygon points="86.20,305.90 89.20,305.90 89.20,304.90 93.90,304.90 98.90,303.10 98.90,310.10 93.90,308.30 89.20,308.30 89.20,307.30 86.20,307.30" fill="#000"/>
<rect x="97.40" y="299.30" width="20.40" height="14.10" rx="2.2" ry="2.2" fill="#000"/>
<rect x="98.90" y="300.75" width="16.55" height="10.35" rx="1.0000000000000002" ry="1.0000000000000002" fill="#fff"/>
<polygon points="93.70,306.60 101.20,305.70 101.20,307.50" fill="#fff"/>
<text id="j4" x="101.96" y="309.90" font-size="11" textLength="10.26" lengthAdjust="spacingAndGlyphs">J4</text>
<polygon points="61.00,314.90 58.00,314.90 58.00,313.90 53.50,313.90 48.50,312.10 48.50,319.10 53.50,317.30 58.00,317.30 58.00,316.30 61.00,316.30" fill="#000"/>
<rect x="29.20" y="308.00" width="20.60" height="14.60" rx="2.2" ry="2.2" fill="#000"/>
<rect x="30.70" y="309.45" width="16.75" height="10.85" rx="1.0000000000000002" ry="1.0000000000000002" fill="#fff"/>
<polygon points="53.70,315.60 46.20,314.70 46.20,316.50" fill="#fff"/>
<text id="j5" x="33.94" y="319.10" font-size="11" textLength="10.23" lengthAdjust="spacingAndGlyphs">J5</text>
<polygon points="76.70,323.30 79.70,323.30 79.70,322.30 84.60,322.30 89.60,320.50 89.60,327.50 84.60,325.70 79.70,325.70 79.70,324.70 76.70,324.70" fill="#000"/>
<rect x="88.70" y="316.40" width="19.90" height="13.80" rx="2.2" ry="2.2" fill="#000"/>
<rect x="90.20" y="317.85" width="16.05" height="10.05" rx="1.0000000000000002" ry="1.0000000000000002" fill="#fff"/>
<polygon points="84.40,324.00 91.90,323.10 91.90,324.90" fill="#fff"/>
<text id="j6" x="91.96" y="327.40" font-size="11" textLength="11.28" lengthAdjust="spacingAndGlyphs">J6</text>
<polygon points="662.20,260.00 669.80,260.00 667.40,265.50 667.40,271.00 666.70,271.00 666.70,274.00 665.30,274.00 665.30,271.00 664.60,271.00 664.60,265.50" fill="#000"/>
<rect x="653.40" y="247.20" width="26.60" height="14.50" rx="2.2" ry="2.2" fill="#000"/>
<rect x="654.90" y="248.65" width="22.75" height="10.75" rx="1.0000000000000002" ry="1.0000000000000002" fill="#fff"/>
<polygon points="665.10,258.30 666.90,258.30 666.00,265.80" fill="#fff"/>
<text id="sw1" x="655.92" y="258.00" font-size="11" textLength="19.69" lengthAdjust="spacingAndGlyphs">SW1</text>
<rect x="659.00" y="273.80" width="16.20" height="31.20" fill="#000"/>
<rect x="660.00" y="274.80" width="14.20" height="29.20" fill="#fff"/>
<rect x="662.00" y="278.90" width="9.20" height="5.00" fill="#000"/>
<rect x="662.00" y="285.00" width="9.20" height="4.80" fill="#000"/>
<rect x="662.00" y="291.00" width="9.20" height="4.80" fill="#000"/>
<rect x="662.00" y="296.90" width="9.20" height="5.10" fill="#000"/>
<rect x="661.00" y="333.00" width="24.00" height="30.00" fill="#000"/>
<rect x="680.00" y="330.00" width="5.00" height="37.00" fill="#000"/>
<rect x="683.00" y="327.80" width="2.00" height="41.40" fill="#000"/>
<rect x="659.50" y="339.00" width="2.00" height="19.00" fill="#000"/>
<rect x="656.00" y="340.00" width="4.00" height="17.30" fill="#000"/>
<rect x="657.00" y="341.00" width="2.50" height="6.50" fill="#fff"/>
<rect x="657.00" y="349.50" width="2.50" height="6.80" fill="#fff"/>
<rect x="453.00" y="298.00" width="182.00" height="1.00" fill="#000"/>
<rect x="453.00" y="298.00" width="1.00" height="15.50" fill="#000"/>
<rect x="634.00" y="298.00" width="1.00" height="15.50" fill="#000"/>
<rect x="453.00" y="312.00" width="182.00" height="1.50" fill="#000"/>
<rect x="454.00" y="303.80" width="5.00" height="1.00" fill="#000"/>
<rect x="454.00" y="309.00" width="5.00" height="1.00" fill="#000"/>
<rect x="459.00" y="298.00" width="2.50" height="14.00" fill="#000"/>
<rect x="461.50" y="299.40" width="6.10" height="1.50" fill="#000"/>
<rect x="466.00" y="299.40" width="1.60" height="3.40" fill="#000"/>
<rect x="462.00" y="301.60" width="2.60" height="1.30" fill="#000"/>
<rect x="462.00" y="302.80" width="8.00" height="8.00" fill="#000"/>
<rect x="463.20" y="304.20" width="5.70" height="5.50" fill="#fff"/>
<rect x="464.80" y="302.80" width="1.20" height="1.40" fill="#fff"/>
<rect x="625.00" y="298.00" width="2.70" height="14.00" fill="#000"/>
<rect x="619.40" y="299.40" width="6.10" height="1.50" fill="#000"/>
<rect x="619.40" y="299.40" width="1.60" height="3.40" fill="#000"/>
<rect x="622.40" y="301.60" width="2.60" height="1.30" fill="#000"/>
<rect x="617.00" y="302.80" width="8.00" height="8.00" fill="#000"/>
<rect x="618.10" y="304.20" width="5.70" height="5.50" fill="#fff"/>
<rect x="621.00" y="302.80" width="1.20" height="1.40" fill="#fff"/>
<rect x="628.00" y="303.80" width="6.00" height="1.00" fill="#000"/>
<rect x="628.00" y="309.00" width="6.00" height="1.00" fill="#000"/>
<polygon points="474.00,300.00 613.20,300.00 613.20,305.00 614.20,305.00 614.20,311.00 473.00,311.00 473.00,305.00 474.00,305.00" fill="#000"/>
<rect x="475.60" y="305.80" width="3.30" height="4.00" fill="#fff"/>
<rect x="476.80" y="301.00" width="1.00" height="3.00" fill="#fff"/>
<rect x="480.32" y="305.80" width="3.30" height="4.00" fill="#fff"/>
<rect x="481.52" y="301.00" width="1.00" height="3.00" fill="#fff"/>
<rect x="485.04" y="305.80" width="3.30" height="4.00" fill="#fff"/>
<rect x="489.76" y="305.80" width="3.30" height="4.00" fill="#fff"/>
<rect x="490.96" y="301.00" width="1.00" height="3.00" fill="#fff"/>
<rect x="494.48" y="305.80" width="3.30" height="4.00" fill="#fff"/>
<rect x="495.68" y="301.00" width="1.00" height="3.00" fill="#fff"/>
<rect x="499.20" y="305.80" width="3.30" height="4.00" fill="#fff"/>
<rect x="500.40" y="301.00" width="1.00" height="3.00" fill="#fff"/>
<rect x="503.92" y="305.80" width="3.30" height="4.00" fill="#fff"/>
<rect x="505.12" y="301.00" width="1.00" height="3.00" fill="#fff"/>
<rect x="508.64" y="305.80" width="3.30" height="4.00" fill="#fff"/>
<rect x="513.36" y="305.80" width="3.30" height="4.00" fill="#fff"/>
<rect x="514.56" y="301.00" width="1.00" height="3.00" fill="#fff"/>
<rect x="518.08" y="305.80" width="3.30" height="4.00" fill="#fff"/>
<rect x="519.28" y="301.00" width="1.00" height="3.00" fill="#fff"/>
<rect x="522.80" y="305.80" width="3.30" height="4.00" fill="#fff"/>
<rect x="524.00" y="301.00" width="1.00" height="3.00" fill="#fff"/>
<rect x="527.52" y="305.80" width="3.30" height="4.00" fill="#fff"/>
<rect x="528.72" y="301.00" width="1.00" height="3.00" fill="#fff"/>
<rect x="532.24" y="305.80" width="3.30" height="4.00" fill="#fff"/>
<rect x="533.44" y="301.00" width="1.00" height="3.00" fill="#fff"/>
<rect x="536.96" y="305.80" width="3.30" height="4.00" fill="#fff"/>
<rect x="538.16" y="301.00" width="1.00" height="3.00" fill="#fff"/>
<rect x="541.68" y="305.80" width="3.30" height="4.00" fill="#fff"/>
<rect x="542.88" y="301.00" width="1.00" height="3.00" fill="#fff"/>
<rect x="546.40" y="305.80" width="3.30" height="4.00" fill="#fff"/>
<rect x="547.60" y="301.00" width="1.00" height="3.00" fill="#fff"/>
<rect x="551.12" y="305.80" width="3.30" height="4.00" fill="#fff"/>
<rect x="552.32" y="301.00" width="1.00" height="3.00" fill="#fff"/>
<rect x="555.84" y="305.80" width="3.30" height="4.00" fill="#fff"/>
<rect x="557.04" y="301.00" width="1.00" height="3.00" fill="#fff"/>
<rect x="560.56" y="305.80" width="3.30" height="4.00" fill="#fff"/>
<rect x="561.76" y="301.00" width="1.00" height="3.00" fill="#fff"/>
<rect x="565.28" y="305.80" width="3.30" height="4.00" fill="#fff"/>
<rect x="566.48" y="301.00" width="1.00" height="3.00" fill="#fff"/>
<rect x="570.00" y="305.80" width="3.30" height="4.00" fill="#fff"/>
<rect x="571.20" y="301.00" width="1.00" height="3.00" fill="#fff"/>
<rect x="574.72" y="305.80" width="3.30" height="4.00" fill="#fff"/>
<rect x="575.92" y="301.00" width="1.00" height="3.00" fill="#fff"/>
<rect x="579.44" y="305.80" width="3.30" height="4.00" fill="#fff"/>
<rect x="580.64" y="301.00" width="1.00" height="3.00" fill="#fff"/>
<rect x="584.16" y="305.80" width="3.30" height="4.00" fill="#fff"/>
<rect x="588.88" y="305.80" width="3.30" height="4.00" fill="#fff"/>
<rect x="590.08" y="301.00" width="1.00" height="3.00" fill="#fff"/>
<rect x="593.60" y="305.80" width="3.30" height="4.00" fill="#fff"/>
<rect x="594.80" y="301.00" width="1.00" height="3.00" fill="#fff"/>
<rect x="598.32" y="305.80" width="3.30" height="4.00" fill="#fff"/>
<rect x="599.52" y="301.00" width="1.00" height="3.00" fill="#fff"/>
<rect x="603.04" y="305.80" width="3.30" height="4.00" fill="#fff"/>
<rect x="604.24" y="301.00" width="1.00" height="3.00" fill="#fff"/>
<rect x="607.76" y="305.80" width="3.30" height="4.00" fill="#fff"/>
<rect x="608.96" y="301.00" width="1.00" height="3.00" fill="#fff"/>
<rect x="453.00" y="314.00" width="182.00" height="1.00" fill="#000"/>
<rect x="453.00" y="314.00" width="1.00" height="15.50" fill="#000"/>
<rect x="634.00" y="314.00" width="1.00" height="15.50" fill="#000"/>
<rect x="453.00" y="328.00" width="182.00" height="1.50" fill="#000"/>
<rect x="454.00" y="319.80" width="5.00" height="1.00" fill="#000"/>
<rect x="454.00" y="325.00" width="5.00" height="1.00" fill="#000"/>
<rect x="459.00" y="314.00" width="2.50" height="14.00" fill="#000"/>
<rect x="461.50" y="315.40" width="6.10" height="1.50" fill="#000"/>
<rect x="466.00" y="315.40" width="1.60" height="3.40" fill="#000"/>
<rect x="462.00" y="317.60" width="2.60" height="1.30" fill="#000"/>
<rect x="462.00" y="318.80" width="8.00" height="8.00" fill="#000"/>
<rect x="463.20" y="320.20" width="5.70" height="5.50" fill="#fff"/>
<rect x="464.80" y="318.80" width="1.20" height="1.40" fill="#fff"/>
<rect x="625.00" y="314.00" width="2.70" height="14.00" fill="#000"/>
<rect x="619.40" y="315.40" width="6.10" height="1.50" fill="#000"/>
<rect x="619.40" y="315.40" width="1.60" height="3.40" fill="#000"/>
<rect x="622.40" y="317.60" width="2.60" height="1.30" fill="#000"/>
<rect x="617.00" y="318.80" width="8.00" height="8.00" fill="#000"/>
<rect x="618.10" y="320.20" width="5.70" height="5.50" fill="#fff"/>
<rect x="621.00" y="318.80" width="1.20" height="1.40" fill="#fff"/>
<rect x="628.00" y="319.80" width="6.00" height="1.00" fill="#000"/>
<rect x="628.00" y="325.00" width="6.00" height="1.00" fill="#000"/>
<polygon points="474.00,316.00 613.20,316.00 613.20,321.00 614.20,321.00 614.20,327.00 473.00,327.00 473.00,321.00 474.00,321.00" fill="#000"/>
<rect x="475.60" y="321.80" width="3.30" height="4.00" fill="#fff"/>
<rect x="476.80" y="317.00" width="1.00" height="3.00" fill="#fff"/>
<rect x="480.32" y="321.80" width="3.30" height="4.00" fill="#fff"/>
<rect x="481.52" y="317.00" width="1.00" height="3.00" fill="#fff"/>
<rect x="485.04" y="321.80" width="3.30" height="4.00" fill="#fff"/>
<rect x="489.76" y="321.80" width="3.30" height="4.00" fill="#fff"/>
<rect x="490.96" y="317.00" width="1.00" height="3.00" fill="#fff"/>
<rect x="494.48" y="321.80" width="3.30" height="4.00" fill="#fff"/>
<rect x="495.68" y="317.00" width="1.00" height="3.00" fill="#fff"/>
<rect x="499.20" y="321.80" width="3.30" height="4.00" fill="#fff"/>
<rect x="500.40" y="317.00" width="1.00" height="3.00" fill="#fff"/>
<rect x="503.92" y="321.80" width="3.30" height="4.00" fill="#fff"/>
<rect x="505.12" y="317.00" width="1.00" height="3.00" fill="#fff"/>
<rect x="508.64" y="321.80" width="3.30" height="4.00" fill="#fff"/>
<rect x="513.36" y="321.80" width="3.30" height="4.00" fill="#fff"/>
<rect x="514.56" y="317.00" width="1.00" height="3.00" fill="#fff"/>
<rect x="518.08" y="321.80" width="3.30" height="4.00" fill="#fff"/>
<rect x="519.28" y="317.00" width="1.00" height="3.00" fill="#fff"/>
<rect x="522.80" y="321.80" width="3.30" height="4.00" fill="#fff"/>
<rect x="524.00" y="317.00" width="1.00" height="3.00" fill="#fff"/>
<rect x="527.52" y="321.80" width="3.30" height="4.00" fill="#fff"/>
<rect x="528.72" y="317.00" width="1.00" height="3.00" fill="#fff"/>
<rect x="532.24" y="321.80" width="3.30" height="4.00" fill="#fff"/>
<rect x="533.44" y="317.00" width="1.00" height="3.00" fill="#fff"/>
<rect x="536.96" y="321.80" width="3.30" height="4.00" fill="#fff"/>
<rect x="538.16" y="317.00" width="1.00" height="3.00" fill="#fff"/>
<rect x="541.68" y="321.80" width="3.30" height="4.00" fill="#fff"/>
<rect x="542.88" y="317.00" width="1.00" height="3.00" fill="#fff"/>
<rect x="546.40" y="321.80" width="3.30" height="4.00" fill="#fff"/>
<rect x="547.60" y="317.00" width="1.00" height="3.00" fill="#fff"/>
<rect x="551.12" y="321.80" width="3.30" height="4.00" fill="#fff"/>
<rect x="552.32" y="317.00" width="1.00" height="3.00" fill="#fff"/>
<rect x="555.84" y="321.80" width="3.30" height="4.00" fill="#fff"/>
<rect x="557.04" y="317.00" width="1.00" height="3.00" fill="#fff"/>
<rect x="560.56" y="321.80" width="3.30" height="4.00" fill="#fff"/>
<rect x="561.76" y="317.00" width="1.00" height="3.00" fill="#fff"/>
<rect x="565.28" y="321.80" width="3.30" height="4.00" fill="#fff"/>
<rect x="566.48" y="317.00" width="1.00" height="3.00" fill="#fff"/>
<rect x="570.00" y="321.80" width="3.30" height="4.00" fill="#fff"/>
<rect x="571.20" y="317.00" width="1.00" height="3.00" fill="#fff"/>
<rect x="574.72" y="321.80" width="3.30" height="4.00" fill="#fff"/>
<rect x="575.92" y="317.00" width="1.00" height="3.00" fill="#fff"/>
<rect x="579.44" y="321.80" width="3.30" height="4.00" fill="#fff"/>
<rect x="580.64" y="317.00" width="1.00" height="3.00" fill="#fff"/>
<rect x="584.16" y="321.80" width="3.30" height="4.00" fill="#fff"/>
<rect x="588.88" y="321.80" width="3.30" height="4.00" fill="#fff"/>
<rect x="590.08" y="317.00" width="1.00" height="3.00" fill="#fff"/>
<rect x="593.60" y="321.80" width="3.30" height="4.00" fill="#fff"/>
<rect x="594.80" y="317.00" width="1.00" height="3.00" fill="#fff"/>
<rect x="598.32" y="321.80" width="3.30" height="4.00" fill="#fff"/>
<rect x="599.52" y="317.00" width="1.00" height="3.00" fill="#fff"/>
<rect x="603.04" y="321.80" width="3.30" height="4.00" fill="#fff"/>
<rect x="604.24" y="317.00" width="1.00" height="3.00" fill="#fff"/>
<rect x="607.76" y="321.80" width="3.30" height="4.00" fill="#fff"/>
<rect x="608.96" y="317.00" width="1.00" height="3.00" fill="#fff"/>
<rect x="453.00" y="330.00" width="182.00" height="1.00" fill="#000"/>
<rect x="453.00" y="330.00" width="1.00" height="15.50" fill="#000"/>
<rect x="634.00" y="330.00" width="1.00" height="15.50" fill="#000"/>
<rect x="453.00" y="344.00" width="182.00" height="1.50" fill="#000"/>
<rect x="454.00" y="335.80" width="5.00" height="1.00" fill="#000"/>
<rect x="454.00" y="341.00" width="5.00" height="1.00" fill="#000"/>
<rect x="459.00" y="330.00" width="2.50" height="14.00" fill="#000"/>
<rect x="461.50" y="331.40" width="6.10" height="1.50" fill="#000"/>
<rect x="466.00" y="331.40" width="1.60" height="3.40" fill="#000"/>
<rect x="462.00" y="333.60" width="2.60" height="1.30" fill="#000"/>
<rect x="462.00" y="334.80" width="8.00" height="8.00" fill="#000"/>
<rect x="463.20" y="336.20" width="5.70" height="5.50" fill="#fff"/>
<rect x="464.80" y="334.80" width="1.20" height="1.40" fill="#fff"/>
<rect x="625.00" y="330.00" width="2.70" height="14.00" fill="#000"/>
<rect x="619.40" y="331.40" width="6.10" height="1.50" fill="#000"/>
<rect x="619.40" y="331.40" width="1.60" height="3.40" fill="#000"/>
<rect x="622.40" y="333.60" width="2.60" height="1.30" fill="#000"/>
<rect x="617.00" y="334.80" width="8.00" height="8.00" fill="#000"/>
<rect x="618.10" y="336.20" width="5.70" height="5.50" fill="#fff"/>
<rect x="621.00" y="334.80" width="1.20" height="1.40" fill="#fff"/>
<rect x="628.00" y="335.80" width="6.00" height="1.00" fill="#000"/>
<rect x="628.00" y="341.00" width="6.00" height="1.00" fill="#000"/>
<polygon points="474.00,332.00 613.20,332.00 613.20,337.00 614.20,337.00 614.20,343.00 473.00,343.00 473.00,337.00 474.00,337.00" fill="#000"/>
<rect x="475.60" y="337.80" width="3.30" height="4.00" fill="#fff"/>
<rect x="476.80" y="333.00" width="1.00" height="3.00" fill="#fff"/>
<rect x="480.32" y="337.80" width="3.30" height="4.00" fill="#fff"/>
<rect x="481.52" y="333.00" width="1.00" height="3.00" fill="#fff"/>
<rect x="485.04" y="337.80" width="3.30" height="4.00" fill="#fff"/>
<rect x="489.76" y="337.80" width="3.30" height="4.00" fill="#fff"/>
<rect x="490.96" y="333.00" width="1.00" height="3.00" fill="#fff"/>
<rect x="494.48" y="337.80" width="3.30" height="4.00" fill="#fff"/>
<rect x="495.68" y="333.00" width="1.00" height="3.00" fill="#fff"/>
<rect x="499.20" y="337.80" width="3.30" height="4.00" fill="#fff"/>
<rect x="500.40" y="333.00" width="1.00" height="3.00" fill="#fff"/>
<rect x="503.92" y="337.80" width="3.30" height="4.00" fill="#fff"/>
<rect x="505.12" y="333.00" width="1.00" height="3.00" fill="#fff"/>
<rect x="508.64" y="337.80" width="3.30" height="4.00" fill="#fff"/>
<rect x="513.36" y="337.80" width="3.30" height="4.00" fill="#fff"/>
<rect x="514.56" y="333.00" width="1.00" height="3.00" fill="#fff"/>
<rect x="518.08" y="337.80" width="3.30" height="4.00" fill="#fff"/>
<rect x="519.28" y="333.00" width="1.00" height="3.00" fill="#fff"/>
<rect x="522.80" y="337.80" width="3.30" height="4.00" fill="#fff"/>
<rect x="524.00" y="333.00" width="1.00" height="3.00" fill="#fff"/>
<rect x="527.52" y="337.80" width="3.30" height="4.00" fill="#fff"/>
<rect x="528.72" y="333.00" width="1.00" height="3.00" fill="#fff"/>
<rect x="532.24" y="337.80" width="3.30" height="4.00" fill="#fff"/>
<rect x="533.44" y="333.00" width="1.00" height="3.00" fill="#fff"/>
<rect x="536.96" y="337.80" width="3.30" height="4.00" fill="#fff"/>
<rect x="538.16" y="333.00" width="1.00" height="3.00" fill="#fff"/>
<rect x="541.68" y="337.80" width="3.30" height="4.00" fill="#fff"/>
<rect x="542.88" y="333.00" width="1.00" height="3.00" fill="#fff"/>
<rect x="546.40" y="337.80" width="3.30" height="4.00" fill="#fff"/>
<rect x="547.60" y="333.00" width="1.00" height="3.00" fill="#fff"/>
<rect x="551.12" y="337.80" width="3.30" height="4.00" fill="#fff"/>
<rect x="552.32" y="333.00" width="1.00" height="3.00" fill="#fff"/>
<rect x="555.84" y="337.80" width="3.30" height="4.00" fill="#fff"/>
<rect x="557.04" y="333.00" width="1.00" height="3.00" fill="#fff"/>
<rect x="560.56" y="337.80" width="3.30" height="4.00" fill="#fff"/>
<rect x="561.76" y="333.00" width="1.00" height="3.00" fill="#fff"/>
<rect x="565.28" y="337.80" width="3.30" height="4.00" fill="#fff"/>
<rect x="566.48" y="333.00" width="1.00" height="3.00" fill="#fff"/>
<rect x="570.00" y="337.80" width="3.30" height="4.00" fill="#fff"/>
<rect x="571.20" y="333.00" width="1.00" height="3.00" fill="#fff"/>
<rect x="574.72" y="337.80" width="3.30" height="4.00" fill="#fff"/>
<rect x="575.92" y="333.00" width="1.00" height="3.00" fill="#fff"/>
<rect x="579.44" y="337.80" width="3.30" height="4.00" fill="#fff"/>
<rect x="580.64" y="333.00" width="1.00" height="3.00" fill="#fff"/>
<rect x="584.16" y="337.80" width="3.30" height="4.00" fill="#fff"/>
<rect x="588.88" y="337.80" width="3.30" height="4.00" fill="#fff"/>
<rect x="590.08" y="333.00" width="1.00" height="3.00" fill="#fff"/>
<rect x="593.60" y="337.80" width="3.30" height="4.00" fill="#fff"/>
<rect x="594.80" y="333.00" width="1.00" height="3.00" fill="#fff"/>
<rect x="598.32" y="337.80" width="3.30" height="4.00" fill="#fff"/>
<rect x="599.52" y="333.00" width="1.00" height="3.00" fill="#fff"/>
<rect x="603.04" y="337.80" width="3.30" height="4.00" fill="#fff"/>
<rect x="604.24" y="333.00" width="1.00" height="3.00" fill="#fff"/>
<rect x="607.76" y="337.80" width="3.30" height="4.00" fill="#fff"/>
<rect x="608.96" y="333.00" width="1.00" height="3.00" fill="#fff"/>
<rect x="453.00" y="347.00" width="182.00" height="1.00" fill="#000"/>
<rect x="453.00" y="347.00" width="1.00" height="15.50" fill="#000"/>
<rect x="634.00" y="347.00" width="1.00" height="15.50" fill="#000"/>
<rect x="453.00" y="361.00" width="182.00" height="1.50" fill="#000"/>
<rect x="454.00" y="352.80" width="5.00" height="1.00" fill="#000"/>
<rect x="454.00" y="358.00" width="5.00" height="1.00" fill="#000"/>
<rect x="459.00" y="347.00" width="2.50" height="14.00" fill="#000"/>
<rect x="461.50" y="348.40" width="6.10" height="1.50" fill="#000"/>
<rect x="466.00" y="348.40" width="1.60" height="3.40" fill="#000"/>
<rect x="462.00" y="350.60" width="2.60" height="1.30" fill="#000"/>
<rect x="462.00" y="351.80" width="8.00" height="8.00" fill="#000"/>
<rect x="463.20" y="353.20" width="5.70" height="5.50" fill="#fff"/>
<rect x="464.80" y="351.80" width="1.20" height="1.40" fill="#fff"/>
<rect x="625.00" y="347.00" width="2.70" height="14.00" fill="#000"/>
<rect x="619.40" y="348.40" width="6.10" height="1.50" fill="#000"/>
<rect x="619.40" y="348.40" width="1.60" height="3.40" fill="#000"/>
<rect x="622.40" y="350.60" width="2.60" height="1.30" fill="#000"/>
<rect x="617.00" y="351.80" width="8.00" height="8.00" fill="#000"/>
<rect x="618.10" y="353.20" width="5.70" height="5.50" fill="#fff"/>
<rect x="621.00" y="351.80" width="1.20" height="1.40" fill="#fff"/>
<rect x="628.00" y="352.80" width="6.00" height="1.00" fill="#000"/>
<rect x="628.00" y="358.00" width="6.00" height="1.00" fill="#000"/>
<polygon points="474.00,349.00 613.20,349.00 613.20,354.00 614.20,354.00 614.20,360.00 473.00,360.00 473.00,354.00 474.00,354.00" fill="#000"/>
<rect x="475.60" y="354.80" width="3.30" height="4.00" fill="#fff"/>
<rect x="476.80" y="350.00" width="1.00" height="3.00" fill="#fff"/>
<rect x="480.32" y="354.80" width="3.30" height="4.00" fill="#fff"/>
<rect x="481.52" y="350.00" width="1.00" height="3.00" fill="#fff"/>
<rect x="485.04" y="354.80" width="3.30" height="4.00" fill="#fff"/>
<rect x="489.76" y="354.80" width="3.30" height="4.00" fill="#fff"/>
<rect x="490.96" y="350.00" width="1.00" height="3.00" fill="#fff"/>
<rect x="494.48" y="354.80" width="3.30" height="4.00" fill="#fff"/>
<rect x="495.68" y="350.00" width="1.00" height="3.00" fill="#fff"/>
<rect x="499.20" y="354.80" width="3.30" height="4.00" fill="#fff"/>
<rect x="500.40" y="350.00" width="1.00" height="3.00" fill="#fff"/>
<rect x="503.92" y="354.80" width="3.30" height="4.00" fill="#fff"/>
<rect x="505.12" y="350.00" width="1.00" height="3.00" fill="#fff"/>
<rect x="508.64" y="354.80" width="3.30" height="4.00" fill="#fff"/>
<rect x="513.36" y="354.80" width="3.30" height="4.00" fill="#fff"/>
<rect x="514.56" y="350.00" width="1.00" height="3.00" fill="#fff"/>
<rect x="518.08" y="354.80" width="3.30" height="4.00" fill="#fff"/>
<rect x="519.28" y="350.00" width="1.00" height="3.00" fill="#fff"/>
<rect x="522.80" y="354.80" width="3.30" height="4.00" fill="#fff"/>
<rect x="524.00" y="350.00" width="1.00" height="3.00" fill="#fff"/>
<rect x="527.52" y="354.80" width="3.30" height="4.00" fill="#fff"/>
<rect x="528.72" y="350.00" width="1.00" height="3.00" fill="#fff"/>
<rect x="532.24" y="354.80" width="3.30" height="4.00" fill="#fff"/>
<rect x="533.44" y="350.00" width="1.00" height="3.00" fill="#fff"/>
<rect x="536.96" y="354.80" width="3.30" height="4.00" fill="#fff"/>
<rect x="538.16" y="350.00" width="1.00" height="3.00" fill="#fff"/>
<rect x="541.68" y="354.80" width="3.30" height="4.00" fill="#fff"/>
<rect x="542.88" y="350.00" width="1.00" height="3.00" fill="#fff"/>
<rect x="546.40" y="354.80" width="3.30" height="4.00" fill="#fff"/>
<rect x="547.60" y="350.00" width="1.00" height="3.00" fill="#fff"/>
<rect x="551.12" y="354.80" width="3.30" height="4.00" fill="#fff"/>
<rect x="552.32" y="350.00" width="1.00" height="3.00" fill="#fff"/>
<rect x="555.84" y="354.80" width="3.30" height="4.00" fill="#fff"/>
<rect x="557.04" y="350.00" width="1.00" height="3.00" fill="#fff"/>
<rect x="560.56" y="354.80" width="3.30" height="4.00" fill="#fff"/>
<rect x="561.76" y="350.00" width="1.00" height="3.00" fill="#fff"/>
<rect x="565.28" y="354.80" width="3.30" height="4.00" fill="#fff"/>
<rect x="566.48" y="350.00" width="1.00" height="3.00" fill="#fff"/>
<rect x="570.00" y="354.80" width="3.30" height="4.00" fill="#fff"/>
<rect x="571.20" y="350.00" width="1.00" height="3.00" fill="#fff"/>
<rect x="574.72" y="354.80" width="3.30" height="4.00" fill="#fff"/>
<rect x="575.92" y="350.00" width="1.00" height="3.00" fill="#fff"/>
<rect x="579.44" y="354.80" width="3.30" height="4.00" fill="#fff"/>
<rect x="580.64" y="350.00" width="1.00" height="3.00" fill="#fff"/>
<rect x="584.16" y="354.80" width="3.30" height="4.00" fill="#fff"/>
<rect x="588.88" y="354.80" width="3.30" height="4.00" fill="#fff"/>
<rect x="590.08" y="350.00" width="1.00" height="3.00" fill="#fff"/>
<rect x="593.60" y="354.80" width="3.30" height="4.00" fill="#fff"/>
<rect x="594.80" y="350.00" width="1.00" height="3.00" fill="#fff"/>
<rect x="598.32" y="354.80" width="3.30" height="4.00" fill="#fff"/>
<rect x="599.52" y="350.00" width="1.00" height="3.00" fill="#fff"/>
<rect x="603.04" y="354.80" width="3.30" height="4.00" fill="#fff"/>
<rect x="604.24" y="350.00" width="1.00" height="3.00" fill="#fff"/>
<rect x="607.76" y="354.80" width="3.30" height="4.00" fill="#fff"/>
<rect x="608.96" y="350.00" width="1.00" height="3.00" fill="#fff"/>
<rect x="453.00" y="363.00" width="182.00" height="1.00" fill="#000"/>
<rect x="453.00" y="363.00" width="1.00" height="15.50" fill="#000"/>
<rect x="634.00" y="363.00" width="1.00" height="15.50" fill="#000"/>
<rect x="453.00" y="377.00" width="182.00" height="1.50" fill="#000"/>
<rect x="454.00" y="368.80" width="5.00" height="1.00" fill="#000"/>
<rect x="454.00" y="374.00" width="5.00" height="1.00" fill="#000"/>
<rect x="459.00" y="363.00" width="2.50" height="14.00" fill="#000"/>
<rect x="461.50" y="364.40" width="6.10" height="1.50" fill="#000"/>
<rect x="466.00" y="364.40" width="1.60" height="3.40" fill="#000"/>
<rect x="462.00" y="366.60" width="2.60" height="1.30" fill="#000"/>
<rect x="462.00" y="367.80" width="8.00" height="8.00" fill="#000"/>
<rect x="463.20" y="369.20" width="5.70" height="5.50" fill="#fff"/>
<rect x="464.80" y="367.80" width="1.20" height="1.40" fill="#fff"/>
<rect x="625.00" y="363.00" width="2.70" height="14.00" fill="#000"/>
<rect x="619.40" y="364.40" width="6.10" height="1.50" fill="#000"/>
<rect x="619.40" y="364.40" width="1.60" height="3.40" fill="#000"/>
<rect x="622.40" y="366.60" width="2.60" height="1.30" fill="#000"/>
<rect x="617.00" y="367.80" width="8.00" height="8.00" fill="#000"/>
<rect x="618.10" y="369.20" width="5.70" height="5.50" fill="#fff"/>
<rect x="621.00" y="367.80" width="1.20" height="1.40" fill="#fff"/>
<rect x="628.00" y="368.80" width="6.00" height="1.00" fill="#000"/>
<rect x="628.00" y="374.00" width="6.00" height="1.00" fill="#000"/>
<polygon points="474.00,365.00 613.20,365.00 613.20,370.00 614.20,370.00 614.20,376.00 473.00,376.00 473.00,370.00 474.00,370.00" fill="#000"/>
<rect x="475.60" y="370.80" width="3.30" height="4.00" fill="#fff"/>
<rect x="476.80" y="366.00" width="1.00" height="3.00" fill="#fff"/>
<rect x="480.32" y="370.80" width="3.30" height="4.00" fill="#fff"/>
<rect x="481.52" y="366.00" width="1.00" height="3.00" fill="#fff"/>
<rect x="485.04" y="370.80" width="3.30" height="4.00" fill="#fff"/>
<rect x="489.76" y="370.80" width="3.30" height="4.00" fill="#fff"/>
<rect x="490.96" y="366.00" width="1.00" height="3.00" fill="#fff"/>
<rect x="494.48" y="370.80" width="3.30" height="4.00" fill="#fff"/>
<rect x="495.68" y="366.00" width="1.00" height="3.00" fill="#fff"/>
<rect x="499.20" y="370.80" width="3.30" height="4.00" fill="#fff"/>
<rect x="500.40" y="366.00" width="1.00" height="3.00" fill="#fff"/>
<rect x="503.92" y="370.80" width="3.30" height="4.00" fill="#fff"/>
<rect x="505.12" y="366.00" width="1.00" height="3.00" fill="#fff"/>
<rect x="508.64" y="370.80" width="3.30" height="4.00" fill="#fff"/>
<rect x="513.36" y="370.80" width="3.30" height="4.00" fill="#fff"/>
<rect x="514.56" y="366.00" width="1.00" height="3.00" fill="#fff"/>
<rect x="518.08" y="370.80" width="3.30" height="4.00" fill="#fff"/>
<rect x="519.28" y="366.00" width="1.00" height="3.00" fill="#fff"/>
<rect x="522.80" y="370.80" width="3.30" height="4.00" fill="#fff"/>
<rect x="524.00" y="366.00" width="1.00" height="3.00" fill="#fff"/>
<rect x="527.52" y="370.80" width="3.30" height="4.00" fill="#fff"/>
<rect x="528.72" y="366.00" width="1.00" height="3.00" fill="#fff"/>
<rect x="532.24" y="370.80" width="3.30" height="4.00" fill="#fff"/>
<rect x="533.44" y="366.00" width="1.00" height="3.00" fill="#fff"/>
<rect x="536.96" y="370.80" width="3.30" height="4.00" fill="#fff"/>
<rect x="538.16" y="366.00" width="1.00" height="3.00" fill="#fff"/>
<rect x="541.68" y="370.80" width="3.30" height="4.00" fill="#fff"/>
<rect x="542.88" y="366.00" width="1.00" height="3.00" fill="#fff"/>
<rect x="546.40" y="370.80" width="3.30" height="4.00" fill="#fff"/>
<rect x="547.60" y="366.00" width="1.00" height="3.00" fill="#fff"/>
<rect x="551.12" y="370.80" width="3.30" height="4.00" fill="#fff"/>
<rect x="552.32" y="366.00" width="1.00" height="3.00" fill="#fff"/>
<rect x="555.84" y="370.80" width="3.30" height="4.00" fill="#fff"/>
<rect x="557.04" y="366.00" width="1.00" height="3.00" fill="#fff"/>
<rect x="560.56" y="370.80" width="3.30" height="4.00" fill="#fff"/>
<rect x="561.76" y="366.00" width="1.00" height="3.00" fill="#fff"/>
<rect x="565.28" y="370.80" width="3.30" height="4.00" fill="#fff"/>
<rect x="566.48" y="366.00" width="1.00" height="3.00" fill="#fff"/>
<rect x="570.00" y="370.80" width="3.30" height="4.00" fill="#fff"/>
<rect x="571.20" y="366.00" width="1.00" height="3.00" fill="#fff"/>
<rect x="574.72" y="370.80" width="3.30" height="4.00" fill="#fff"/>
<rect x="575.92" y="366.00" width="1.00" height="3.00" fill="#fff"/>
<rect x="579.44" y="370.80" width="3.30" height="4.00" fill="#fff"/>
<rect x="580.64" y="366.00" width="1.00" height="3.00" fill="#fff"/>
<rect x="584.16" y="370.80" width="3.30" height="4.00" fill="#fff"/>
<rect x="588.88" y="370.80" width="3.30" height="4.00" fill="#fff"/>
<rect x="590.08" y="366.00" width="1.00" height="3.00" fill="#fff"/>
<rect x="593.60" y="370.80" width="3.30" height="4.00" fill="#fff"/>
<rect x="594.80" y="366.00" width="1.00" height="3.00" fill="#fff"/>
<rect x="598.32" y="370.80" width="3.30" height="4.00" fill="#fff"/>
<rect x="599.52" y="366.00" width="1.00" height="3.00" fill="#fff"/>
<rect x="603.04" y="370.80" width="3.30" height="4.00" fill="#fff"/>
<rect x="604.24" y="366.00" width="1.00" height="3.00" fill="#fff"/>
<rect x="607.76" y="370.80" width="3.30" height="4.00" fill="#fff"/>
<rect x="608.96" y="366.00" width="1.00" height="3.00" fill="#fff"/>
<rect x="453.00" y="379.00" width="182.00" height="1.00" fill="#000"/>
<rect x="453.00" y="379.00" width="1.00" height="15.50" fill="#000"/>
<rect x="634.00" y="379.00" width="1.00" height="15.50" fill="#000"/>
<rect x="453.00" y="393.00" width="182.00" height="1.50" fill="#000"/>
<rect x="454.00" y="384.80" width="5.00" height="1.00" fill="#000"/>
<rect x="454.00" y="390.00" width="5.00" height="1.00" fill="#000"/>
<rect x="459.00" y="379.00" width="2.50" height="14.00" fill="#000"/>
<rect x="461.50" y="380.40" width="6.10" height="1.50" fill="#000"/>
<rect x="466.00" y="380.40" width="1.60" height="3.40" fill="#000"/>
<rect x="462.00" y="382.60" width="2.60" height="1.30" fill="#000"/>
<rect x="462.00" y="383.80" width="8.00" height="8.00" fill="#000"/>
<rect x="463.20" y="385.20" width="5.70" height="5.50" fill="#fff"/>
<rect x="464.80" y="383.80" width="1.20" height="1.40" fill="#fff"/>
<rect x="625.00" y="379.00" width="2.70" height="14.00" fill="#000"/>
<rect x="619.40" y="380.40" width="6.10" height="1.50" fill="#000"/>
<rect x="619.40" y="380.40" width="1.60" height="3.40" fill="#000"/>
<rect x="622.40" y="382.60" width="2.60" height="1.30" fill="#000"/>
<rect x="617.00" y="383.80" width="8.00" height="8.00" fill="#000"/>
<rect x="618.10" y="385.20" width="5.70" height="5.50" fill="#fff"/>
<rect x="621.00" y="383.80" width="1.20" height="1.40" fill="#fff"/>
<rect x="628.00" y="384.80" width="6.00" height="1.00" fill="#000"/>
<rect x="628.00" y="390.00" width="6.00" height="1.00" fill="#000"/>
<polygon points="474.00,381.00 613.20,381.00 613.20,386.00 614.20,386.00 614.20,392.00 473.00,392.00 473.00,386.00 474.00,386.00" fill="#000"/>
<rect x="475.60" y="386.80" width="3.30" height="4.00" fill="#fff"/>
<rect x="476.80" y="382.00" width="1.00" height="3.00" fill="#fff"/>
<rect x="480.32" y="386.80" width="3.30" height="4.00" fill="#fff"/>
<rect x="481.52" y="382.00" width="1.00" height="3.00" fill="#fff"/>
<rect x="485.04" y="386.80" width="3.30" height="4.00" fill="#fff"/>
<rect x="489.76" y="386.80" width="3.30" height="4.00" fill="#fff"/>
<rect x="490.96" y="382.00" width="1.00" height="3.00" fill="#fff"/>
<rect x="494.48" y="386.80" width="3.30" height="4.00" fill="#fff"/>
<rect x="495.68" y="382.00" width="1.00" height="3.00" fill="#fff"/>
<rect x="499.20" y="386.80" width="3.30" height="4.00" fill="#fff"/>
<rect x="500.40" y="382.00" width="1.00" height="3.00" fill="#fff"/>
<rect x="503.92" y="386.80" width="3.30" height="4.00" fill="#fff"/>
<rect x="505.12" y="382.00" width="1.00" height="3.00" fill="#fff"/>
<rect x="508.64" y="386.80" width="3.30" height="4.00" fill="#fff"/>
<rect x="513.36" y="386.80" width="3.30" height="4.00" fill="#fff"/>
<rect x="514.56" y="382.00" width="1.00" height="3.00" fill="#fff"/>
<rect x="518.08" y="386.80" width="3.30" height="4.00" fill="#fff"/>
<rect x="519.28" y="382.00" width="1.00" height="3.00" fill="#fff"/>
<rect x="522.80" y="386.80" width="3.30" height="4.00" fill="#fff"/>
<rect x="524.00" y="382.00" width="1.00" height="3.00" fill="#fff"/>
<rect x="527.52" y="386.80" width="3.30" height="4.00" fill="#fff"/>
<rect x="528.72" y="382.00" width="1.00" height="3.00" fill="#fff"/>
<rect x="532.24" y="386.80" width="3.30" height="4.00" fill="#fff"/>
<rect x="533.44" y="382.00" width="1.00" height="3.00" fill="#fff"/>
<rect x="536.96" y="386.80" width="3.30" height="4.00" fill="#fff"/>
<rect x="538.16" y="382.00" width="1.00" height="3.00" fill="#fff"/>
<rect x="541.68" y="386.80" width="3.30" height="4.00" fill="#fff"/>
<rect x="542.88" y="382.00" width="1.00" height="3.00" fill="#fff"/>
<rect x="546.40" y="386.80" width="3.30" height="4.00" fill="#fff"/>
<rect x="547.60" y="382.00" width="1.00" height="3.00" fill="#fff"/>
<rect x="551.12" y="386.80" width="3.30" height="4.00" fill="#fff"/>
<rect x="552.32" y="382.00" width="1.00" height="3.00" fill="#fff"/>
<rect x="555.84" y="386.80" width="3.30" height="4.00" fill="#fff"/>
<rect x="557.04" y="382.00" width="1.00" height="3.00" fill="#fff"/>
<rect x="560.56" y="386.80" width="3.30" height="4.00" fill="#fff"/>
<rect x="561.76" y="382.00" width="1.00" height="3.00" fill="#fff"/>
<rect x="565.28" y="386.80" width="3.30" height="4.00" fill="#fff"/>
<rect x="566.48" y="382.00" width="1.00" height="3.00" fill="#fff"/>
<rect x="570.00" y="386.80" width="3.30" height="4.00" fill="#fff"/>
<rect x="571.20" y="382.00" width="1.00" height="3.00" fill="#fff"/>
<rect x="574.72" y="386.80" width="3.30" height="4.00" fill="#fff"/>
<rect x="575.92" y="382.00" width="1.00" height="3.00" fill="#fff"/>
<rect x="579.44" y="386.80" width="3.30" height="4.00" fill="#fff"/>
<rect x="580.64" y="382.00" width="1.00" height="3.00" fill="#fff"/>
<rect x="584.16" y="386.80" width="3.30" height="4.00" fill="#fff"/>
<rect x="588.88" y="386.80" width="3.30" height="4.00" fill="#fff"/>
<rect x="590.08" y="382.00" width="1.00" height="3.00" fill="#fff"/>
<rect x="593.60" y="386.80" width="3.30" height="4.00" fill="#fff"/>
<rect x="594.80" y="382.00" width="1.00" height="3.00" fill="#fff"/>
<rect x="598.32" y="386.80" width="3.30" height="4.00" fill="#fff"/>
<rect x="599.52" y="382.00" width="1.00" height="3.00" fill="#fff"/>
<rect x="603.04" y="386.80" width="3.30" height="4.00" fill="#fff"/>
<rect x="604.24" y="382.00" width="1.00" height="3.00" fill="#fff"/>
<rect x="607.76" y="386.80" width="3.30" height="4.00" fill="#fff"/>
<rect x="608.96" y="382.00" width="1.00" height="3.00" fill="#fff"/>
<rect x="453.00" y="395.00" width="182.00" height="1.00" fill="#000"/>
<rect x="453.00" y="395.00" width="1.00" height="15.50" fill="#000"/>
<rect x="634.00" y="395.00" width="1.00" height="15.50" fill="#000"/>
<rect x="453.00" y="409.00" width="182.00" height="1.50" fill="#000"/>
<rect x="454.00" y="400.80" width="5.00" height="1.00" fill="#000"/>
<rect x="454.00" y="406.00" width="5.00" height="1.00" fill="#000"/>
<rect x="459.00" y="395.00" width="2.50" height="14.00" fill="#000"/>
<rect x="461.50" y="396.40" width="6.10" height="1.50" fill="#000"/>
<rect x="466.00" y="396.40" width="1.60" height="3.40" fill="#000"/>
<rect x="462.00" y="398.60" width="2.60" height="1.30" fill="#000"/>
<rect x="462.00" y="399.80" width="8.00" height="8.00" fill="#000"/>
<rect x="463.20" y="401.20" width="5.70" height="5.50" fill="#fff"/>
<rect x="464.80" y="399.80" width="1.20" height="1.40" fill="#fff"/>
<rect x="625.00" y="395.00" width="2.70" height="14.00" fill="#000"/>
<rect x="619.40" y="396.40" width="6.10" height="1.50" fill="#000"/>
<rect x="619.40" y="396.40" width="1.60" height="3.40" fill="#000"/>
<rect x="622.40" y="398.60" width="2.60" height="1.30" fill="#000"/>
<rect x="617.00" y="399.80" width="8.00" height="8.00" fill="#000"/>
<rect x="618.10" y="401.20" width="5.70" height="5.50" fill="#fff"/>
<rect x="621.00" y="399.80" width="1.20" height="1.40" fill="#fff"/>
<rect x="628.00" y="400.80" width="6.00" height="1.00" fill="#000"/>
<rect x="628.00" y="406.00" width="6.00" height="1.00" fill="#000"/>
<polygon points="474.00,397.00 613.20,397.00 613.20,402.00 614.20,402.00 614.20,408.00 473.00,408.00 473.00,402.00 474.00,402.00" fill="#000"/>
<rect x="475.60" y="402.80" width="3.30" height="4.00" fill="#fff"/>
<rect x="476.80" y="398.00" width="1.00" height="3.00" fill="#fff"/>
<rect x="480.32" y="402.80" width="3.30" height="4.00" fill="#fff"/>
<rect x="481.52" y="398.00" width="1.00" height="3.00" fill="#fff"/>
<rect x="485.04" y="402.80" width="3.30" height="4.00" fill="#fff"/>
<rect x="489.76" y="402.80" width="3.30" height="4.00" fill="#fff"/>
<rect x="490.96" y="398.00" width="1.00" height="3.00" fill="#fff"/>
<rect x="494.48" y="402.80" width="3.30" height="4.00" fill="#fff"/>
<rect x="495.68" y="398.00" width="1.00" height="3.00" fill="#fff"/>
<rect x="499.20" y="402.80" width="3.30" height="4.00" fill="#fff"/>
<rect x="500.40" y="398.00" width="1.00" height="3.00" fill="#fff"/>
<rect x="503.92" y="402.80" width="3.30" height="4.00" fill="#fff"/>
<rect x="505.12" y="398.00" width="1.00" height="3.00" fill="#fff"/>
<rect x="508.64" y="402.80" width="3.30" height="4.00" fill="#fff"/>
<rect x="513.36" y="402.80" width="3.30" height="4.00" fill="#fff"/>
<rect x="514.56" y="398.00" width="1.00" height="3.00" fill="#fff"/>
<rect x="518.08" y="402.80" width="3.30" height="4.00" fill="#fff"/>
<rect x="519.28" y="398.00" width="1.00" height="3.00" fill="#fff"/>
<rect x="522.80" y="402.80" width="3.30" height="4.00" fill="#fff"/>
<rect x="524.00" y="398.00" width="1.00" height="3.00" fill="#fff"/>
<rect x="527.52" y="402.80" width="3.30" height="4.00" fill="#fff"/>
<rect x="528.72" y="398.00" width="1.00" height="3.00" fill="#fff"/>
<rect x="532.24" y="402.80" width="3.30" height="4.00" fill="#fff"/>
<rect x="533.44" y="398.00" width="1.00" height="3.00" fill="#fff"/>
<rect x="536.96" y="402.80" width="3.30" height="4.00" fill="#fff"/>
<rect x="538.16" y="398.00" width="1.00" height="3.00" fill="#fff"/>
<rect x="541.68" y="402.80" width="3.30" height="4.00" fill="#fff"/>
<rect x="542.88" y="398.00" width="1.00" height="3.00" fill="#fff"/>
<rect x="546.40" y="402.80" width="3.30" height="4.00" fill="#fff"/>
<rect x="547.60" y="398.00" width="1.00" height="3.00" fill="#fff"/>
<rect x="551.12" y="402.80" width="3.30" height="4.00" fill="#fff"/>
<rect x="552.32" y="398.00" width="1.00" height="3.00" fill="#fff"/>
<rect x="555.84" y="402.80" width="3.30" height="4.00" fill="#fff"/>
<rect x="557.04" y="398.00" width="1.00" height="3.00" fill="#fff"/>
<rect x="560.56" y="402.80" width="3.30" height="4.00" fill="#fff"/>
<rect x="561.76" y="398.00" width="1.00" height="3.00" fill="#fff"/>
<rect x="565.28" y="402.80" width="3.30" height="4.00" fill="#fff"/>
<rect x="566.48" y="398.00" width="1.00" height="3.00" fill="#fff"/>
<rect x="570.00" y="402.80" width="3.30" height="4.00" fill="#fff"/>
<rect x="571.20" y="398.00" width="1.00" height="3.00" fill="#fff"/>
<rect x="574.72" y="402.80" width="3.30" height="4.00" fill="#fff"/>
<rect x="575.92" y="398.00" width="1.00" height="3.00" fill="#fff"/>
<rect x="579.44" y="402.80" width="3.30" height="4.00" fill="#fff"/>
<rect x="580.64" y="398.00" width="1.00" height="3.00" fill="#fff"/>
<rect x="584.16" y="402.80" width="3.30" height="4.00" fill="#fff"/>
<rect x="588.88" y="402.80" width="3.30" height="4.00" fill="#fff"/>
<rect x="590.08" y="398.00" width="1.00" height="3.00" fill="#fff"/>
<rect x="593.60" y="402.80" width="3.30" height="4.00" fill="#fff"/>
<rect x="594.80" y="398.00" width="1.00" height="3.00" fill="#fff"/>
<rect x="598.32" y="402.80" width="3.30" height="4.00" fill="#fff"/>
<rect x="599.52" y="398.00" width="1.00" height="3.00" fill="#fff"/>
<rect x="603.04" y="402.80" width="3.30" height="4.00" fill="#fff"/>
<rect x="604.24" y="398.00" width="1.00" height="3.00" fill="#fff"/>
<rect x="607.76" y="402.80" width="3.30" height="4.00" fill="#fff"/>
<rect x="608.96" y="398.00" width="1.00" height="3.00" fill="#fff"/>
<rect x="453.00" y="411.00" width="182.00" height="1.00" fill="#000"/>
<rect x="453.00" y="411.00" width="1.00" height="15.50" fill="#000"/>
<rect x="634.00" y="411.00" width="1.00" height="15.50" fill="#000"/>
<rect x="453.00" y="425.00" width="182.00" height="1.50" fill="#000"/>
<rect x="454.00" y="416.80" width="5.00" height="1.00" fill="#000"/>
<rect x="454.00" y="422.00" width="5.00" height="1.00" fill="#000"/>
<rect x="459.00" y="411.00" width="2.50" height="14.00" fill="#000"/>
<rect x="461.50" y="412.40" width="6.10" height="1.50" fill="#000"/>
<rect x="466.00" y="412.40" width="1.60" height="3.40" fill="#000"/>
<rect x="462.00" y="414.60" width="2.60" height="1.30" fill="#000"/>
<rect x="462.00" y="415.80" width="8.00" height="8.00" fill="#000"/>
<rect x="463.20" y="417.20" width="5.70" height="5.50" fill="#fff"/>
<rect x="464.80" y="415.80" width="1.20" height="1.40" fill="#fff"/>
<rect x="625.00" y="411.00" width="2.70" height="14.00" fill="#000"/>
<rect x="619.40" y="412.40" width="6.10" height="1.50" fill="#000"/>
<rect x="619.40" y="412.40" width="1.60" height="3.40" fill="#000"/>
<rect x="622.40" y="414.60" width="2.60" height="1.30" fill="#000"/>
<rect x="617.00" y="415.80" width="8.00" height="8.00" fill="#000"/>
<rect x="618.10" y="417.20" width="5.70" height="5.50" fill="#fff"/>
<rect x="621.00" y="415.80" width="1.20" height="1.40" fill="#fff"/>
<rect x="628.00" y="416.80" width="6.00" height="1.00" fill="#000"/>
<rect x="628.00" y="422.00" width="6.00" height="1.00" fill="#000"/>
<polygon points="474.00,413.00 613.20,413.00 613.20,418.00 614.20,418.00 614.20,424.00 473.00,424.00 473.00,418.00 474.00,418.00" fill="#000"/>
<rect x="475.60" y="418.80" width="3.30" height="4.00" fill="#fff"/>
<rect x="476.80" y="414.00" width="1.00" height="3.00" fill="#fff"/>
<rect x="480.32" y="418.80" width="3.30" height="4.00" fill="#fff"/>
<rect x="481.52" y="414.00" width="1.00" height="3.00" fill="#fff"/>
<rect x="485.04" y="418.80" width="3.30" height="4.00" fill="#fff"/>
<rect x="489.76" y="418.80" width="3.30" height="4.00" fill="#fff"/>
<rect x="490.96" y="414.00" width="1.00" height="3.00" fill="#fff"/>
<rect x="494.48" y="418.80" width="3.30" height="4.00" fill="#fff"/>
<rect x="495.68" y="414.00" width="1.00" height="3.00" fill="#fff"/>
<rect x="499.20" y="418.80" width="3.30" height="4.00" fill="#fff"/>
<rect x="500.40" y="414.00" width="1.00" height="3.00" fill="#fff"/>
<rect x="503.92" y="418.80" width="3.30" height="4.00" fill="#fff"/>
<rect x="505.12" y="414.00" width="1.00" height="3.00" fill="#fff"/>
<rect x="508.64" y="418.80" width="3.30" height="4.00" fill="#fff"/>
<rect x="513.36" y="418.80" width="3.30" height="4.00" fill="#fff"/>
<rect x="514.56" y="414.00" width="1.00" height="3.00" fill="#fff"/>
<rect x="518.08" y="418.80" width="3.30" height="4.00" fill="#fff"/>
<rect x="519.28" y="414.00" width="1.00" height="3.00" fill="#fff"/>
<rect x="522.80" y="418.80" width="3.30" height="4.00" fill="#fff"/>
<rect x="524.00" y="414.00" width="1.00" height="3.00" fill="#fff"/>
<rect x="527.52" y="418.80" width="3.30" height="4.00" fill="#fff"/>
<rect x="528.72" y="414.00" width="1.00" height="3.00" fill="#fff"/>
<rect x="532.24" y="418.80" width="3.30" height="4.00" fill="#fff"/>
<rect x="533.44" y="414.00" width="1.00" height="3.00" fill="#fff"/>
<rect x="536.96" y="418.80" width="3.30" height="4.00" fill="#fff"/>
<rect x="538.16" y="414.00" width="1.00" height="3.00" fill="#fff"/>
<rect x="541.68" y="418.80" width="3.30" height="4.00" fill="#fff"/>
<rect x="542.88" y="414.00" width="1.00" height="3.00" fill="#fff"/>
<rect x="546.40" y="418.80" width="3.30" height="4.00" fill="#fff"/>
<rect x="547.60" y="414.00" width="1.00" height="3.00" fill="#fff"/>
<rect x="551.12" y="418.80" width="3.30" height="4.00" fill="#fff"/>
<rect x="552.32" y="414.00" width="1.00" height="3.00" fill="#fff"/>
<rect x="555.84" y="418.80" width="3.30" height="4.00" fill="#fff"/>
<rect x="557.04" y="414.00" width="1.00" height="3.00" fill="#fff"/>
<rect x="560.56" y="418.80" width="3.30" height="4.00" fill="#fff"/>
<rect x="561.76" y="414.00" width="1.00" height="3.00" fill="#fff"/>
<rect x="565.28" y="418.80" width="3.30" height="4.00" fill="#fff"/>
<rect x="566.48" y="414.00" width="1.00" height="3.00" fill="#fff"/>
<rect x="570.00" y="418.80" width="3.30" height="4.00" fill="#fff"/>
<rect x="571.20" y="414.00" width="1.00" height="3.00" fill="#fff"/>
<rect x="574.72" y="418.80" width="3.30" height="4.00" fill="#fff"/>
<rect x="575.92" y="414.00" width="1.00" height="3.00" fill="#fff"/>
<rect x="579.44" y="418.80" width="3.30" height="4.00" fill="#fff"/>
<rect x="580.64" y="414.00" width="1.00" height="3.00" fill="#fff"/>
<rect x="584.16" y="418.80" width="3.30" height="4.00" fill="#fff"/>
<rect x="588.88" y="418.80" width="3.30" height="4.00" fill="#fff"/>
<rect x="590.08" y="414.00" width="1.00" height="3.00" fill="#fff"/>
<rect x="593.60" y="418.80" width="3.30" height="4.00" fill="#fff"/>
<rect x="594.80" y="414.00" width="1.00" height="3.00" fill="#fff"/>
<rect x="598.32" y="418.80" width="3.30" height="4.00" fill="#fff"/>
<rect x="599.52" y="414.00" width="1.00" height="3.00" fill="#fff"/>
<rect x="603.04" y="418.80" width="3.30" height="4.00" fill="#fff"/>
<rect x="604.24" y="414.00" width="1.00" height="3.00" fill="#fff"/>
<rect x="607.76" y="418.80" width="3.30" height="4.00" fill="#fff"/>
<rect x="608.96" y="414.00" width="1.00" height="3.00" fill="#fff"/>
<rect x="521.50" y="323.60" width="45.00" height="13.00" fill="#000"/>
<rect x="522.70" y="324.80" width="42.10" height="10.20" rx="1.5" ry="1.5" fill="#fff"/>
<text id="bank0s" x="524.94" y="334.40" font-size="11" textLength="39.14" lengthAdjust="spacingAndGlyphs">BANK 0</text>
<rect x="521.50" y="387.60" width="45.00" height="12.80" fill="#000"/>
<rect x="522.70" y="388.80" width="42.10" height="10.00" rx="1.5" ry="1.5" fill="#fff"/>
<text id="bank1s" x="524.94" y="398.40" font-size="11" textLength="40.04" lengthAdjust="spacingAndGlyphs">BANK 1</text>
<rect x="483.00" y="444.00" width="90.00" height="20.00" fill="#000"/>
<rect x="484.00" y="445.00" width="88.00" height="18.00" fill="#fff"/>
<rect x="485.40" y="447.00" width="5.40" height="1.80" fill="#000"/>
<rect x="486.70" y="448.60" width="2.80" height="1.10" fill="#000"/>
<rect x="492.65" y="447.00" width="5.40" height="1.80" fill="#000"/>
<rect x="493.95" y="448.60" width="2.80" height="1.10" fill="#000"/>
<rect x="499.90" y="447.00" width="5.40" height="1.80" fill="#000"/>
<rect x="501.20" y="448.60" width="2.80" height="1.10" fill="#000"/>
<rect x="507.15" y="447.00" width="5.40" height="1.80" fill="#000"/>
<rect x="508.45" y="448.60" width="2.80" height="1.10" fill="#000"/>
<rect x="514.40" y="447.00" width="5.40" height="1.80" fill="#000"/>
<rect x="515.70" y="448.60" width="2.80" height="1.10" fill="#000"/>
<rect x="521.65" y="447.00" width="5.40" height="1.80" fill="#000"/>
<rect x="522.95" y="448.60" width="2.80" height="1.10" fill="#000"/>
<rect x="528.90" y="447.00" width="5.40" height="1.80" fill="#000"/>
<rect x="530.20" y="448.60" width="2.80" height="1.10" fill="#000"/>
<rect x="536.15" y="447.00" width="5.40" height="1.80" fill="#000"/>
<rect x="537.45" y="448.60" width="2.80" height="1.10" fill="#000"/>
<rect x="543.40" y="447.00" width="5.40" height="1.80" fill="#000"/>
<rect x="544.70" y="448.60" width="2.80" height="1.10" fill="#000"/>
<rect x="550.65" y="447.00" width="5.40" height="1.80" fill="#000"/>
<rect x="551.95" y="448.60" width="2.80" height="1.10" fill="#000"/>
<rect x="557.90" y="447.00" width="5.40" height="1.80" fill="#000"/>
<rect x="559.20" y="448.60" width="2.80" height="1.10" fill="#000"/>
<rect x="565.15" y="447.00" width="5.40" height="1.80" fill="#000"/>
<rect x="566.45" y="448.60" width="2.80" height="1.10" fill="#000"/>
<rect x="484.00" y="449.60" width="88.00" height="0.90" fill="#000"/>
<rect x="485.00" y="451.40" width="86.00" height="1.00" fill="#000"/>
<rect x="485.40" y="452.20" width="5.60" height="2.50" fill="#000"/>
<rect x="492.65" y="452.20" width="5.60" height="2.50" fill="#000"/>
<rect x="499.90" y="452.20" width="5.60" height="2.50" fill="#000"/>
<rect x="507.15" y="452.20" width="5.60" height="2.50" fill="#000"/>
<rect x="514.40" y="452.20" width="5.60" height="2.50" fill="#000"/>
<rect x="521.65" y="452.20" width="5.60" height="2.50" fill="#000"/>
<rect x="528.90" y="452.20" width="5.60" height="2.50" fill="#000"/>
<rect x="536.15" y="452.20" width="5.60" height="2.50" fill="#000"/>
<rect x="543.40" y="452.20" width="5.60" height="2.50" fill="#000"/>
<rect x="550.65" y="452.20" width="5.60" height="2.50" fill="#000"/>
<rect x="557.90" y="452.20" width="5.60" height="2.50" fill="#000"/>
<rect x="565.15" y="452.20" width="5.60" height="2.50" fill="#000"/>
<rect x="486.00" y="454.60" width="1.00" height="6.30" fill="#000"/>
<rect x="487.90" y="454.60" width="5.90" height="6.20" fill="#000"/>
<rect x="488.95" y="455.90" width="3.80" height="3.80" fill="#fff"/>
<rect x="495.45" y="454.60" width="5.90" height="6.20" fill="#000"/>
<rect x="496.50" y="455.90" width="3.80" height="3.80" fill="#fff"/>
<rect x="503.00" y="454.60" width="5.90" height="6.20" fill="#000"/>
<rect x="504.05" y="455.90" width="3.80" height="3.80" fill="#fff"/>
<rect x="510.55" y="454.60" width="5.90" height="6.20" fill="#000"/>
<rect x="511.60" y="455.90" width="3.80" height="3.80" fill="#fff"/>
<rect x="518.10" y="454.60" width="5.90" height="6.20" fill="#000"/>
<rect x="519.15" y="455.90" width="3.80" height="3.80" fill="#fff"/>
<rect x="525.65" y="454.60" width="5.90" height="6.20" fill="#000"/>
<rect x="526.70" y="455.90" width="3.80" height="3.80" fill="#fff"/>
<rect x="533.20" y="454.60" width="5.90" height="6.20" fill="#000"/>
<rect x="534.25" y="455.90" width="3.80" height="3.80" fill="#fff"/>
<rect x="540.75" y="454.60" width="5.90" height="6.20" fill="#000"/>
<rect x="541.80" y="455.90" width="3.80" height="3.80" fill="#fff"/>
<rect x="548.30" y="454.60" width="5.90" height="6.20" fill="#000"/>
<rect x="549.35" y="455.90" width="3.80" height="3.80" fill="#fff"/>
<rect x="555.85" y="454.60" width="5.90" height="6.20" fill="#000"/>
<rect x="556.90" y="455.90" width="3.80" height="3.80" fill="#fff"/>
<rect x="563.40" y="454.60" width="5.90" height="6.20" fill="#000"/>
<rect x="564.45" y="455.90" width="3.80" height="3.80" fill="#fff"/>
<rect x="486.00" y="460.00" width="85.50" height="0.90" fill="#000"/>
<rect x="483.00" y="456.80" width="1.40" height="2.20" fill="#fff"/>
</svg>
</body></html>
